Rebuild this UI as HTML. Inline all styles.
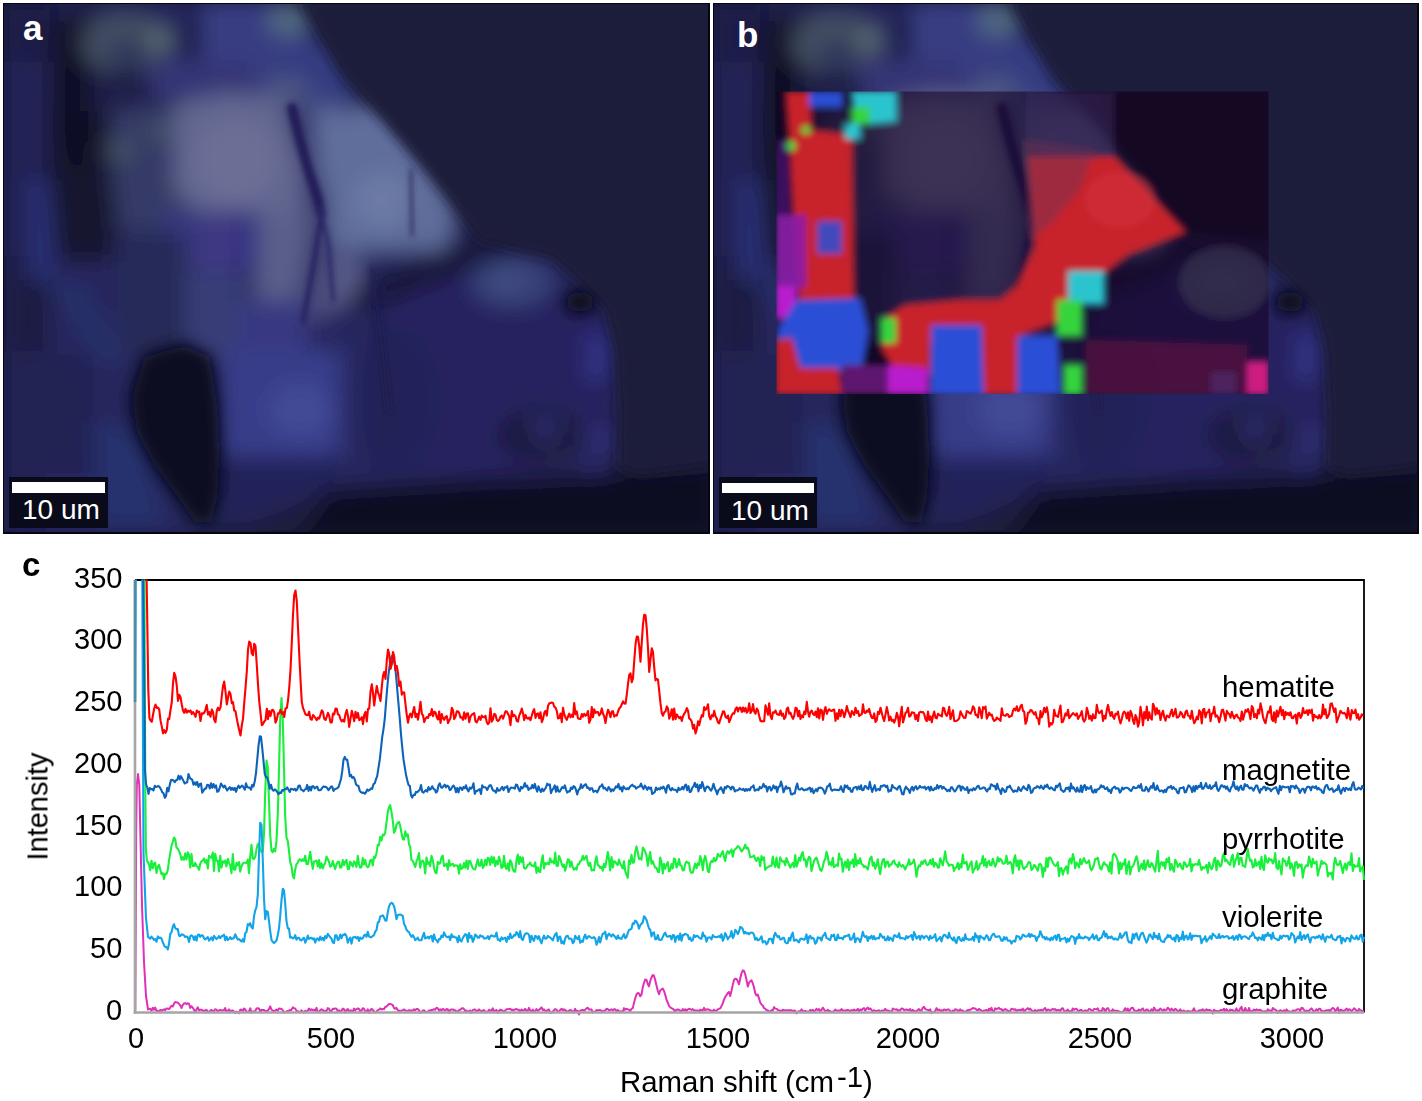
<!DOCTYPE html>
<html><head><meta charset="utf-8"><style>
html,body{margin:0;padding:0;background:#fff;}
body{width:1422px;height:1101px;position:relative;overflow:hidden;font-family:"Liberation Sans",sans-serif;}
.abs{position:absolute;}
.t{position:absolute;font-size:29px;line-height:1;color:#000;white-space:nowrap;will-change:transform;}
.panel{position:absolute;overflow:hidden;background:#161838;}
.lab{position:absolute;color:#fff;font-weight:bold;font-size:35px;line-height:1;}
.sb{position:absolute;background:#0a0b1a;}
.frm{position:absolute;left:0;top:0;right:0;bottom:0;border-style:solid;border-color:#06060f;border-width:1px 2px 2px 1px;}
.sbar{position:absolute;background:#fff;}
.stxt{position:absolute;color:#fff;font-size:28px;line-height:1;}
</style></head><body>
<div class="panel" style="left:3px;top:3px;width:707px;height:531px"><svg class="abs" width="707" height="531" viewBox="3 3 707 531" style="left:0;top:0">
<defs><filter id="bla" filterUnits="userSpaceOnUse" x="-60" y="-60" width="1600" height="700"><feGaussianBlur stdDeviation="11"/></filter>
<filter id="bsa" filterUnits="userSpaceOnUse" x="-60" y="-60" width="1600" height="700"><feGaussianBlur stdDeviation="2.5"/></filter>
<filter id="bea" filterUnits="userSpaceOnUse" x="-60" y="-60" width="1600" height="700"><feGaussianBlur stdDeviation="6"/></filter>
<filter id="bda" filterUnits="userSpaceOnUse" x="-60" y="-60" width="1600" height="700"><feGaussianBlur stdDeviation="6.5"/></filter></defs>
<g filter="url(#bla)"><rect x="0" y="0" width="720" height="540" fill="rgb(26,27,58)" opacity="1"/><polygon points="0,0 296,0 341,73 409,152 440,200 480,240 560,262 605,295 618,350 616,470 560,478 470,478 330,488 240,515 200,540 0,540" fill="rgb(38,40,94)" opacity="1"/><rect x="0" y="60" width="46" height="480" fill="rgb(33,36,86)" opacity="1"/><rect x="0" y="0" width="52" height="62" fill="rgb(28,30,72)" opacity="1"/><rect x="8" y="256" width="42" height="95" fill="rgb(30,28,66)" opacity="1"/><rect x="30" y="180" width="20" height="100" fill="rgb(42,50,120)" opacity="1"/><polygon points="50,12 102,12 110,120 120,200 112,262 60,262 48,180" fill="rgb(18,18,45)" opacity="1"/><ellipse cx="76" cy="100" rx="16" ry="72" fill="rgb(12,12,34)" opacity="1"/><ellipse cx="125" cy="44" rx="44" ry="32" fill="rgb(66,78,98)" opacity="1"/><ellipse cx="128" cy="56" rx="22" ry="16" fill="rgb(50,56,92)" opacity="1"/><ellipse cx="160" cy="40" rx="12" ry="12" fill="rgb(92,110,115)" opacity="1"/><rect x="88" y="71" width="106" height="40" fill="rgb(28,28,70)" opacity="1"/><polygon points="112,108 196,108 196,229 118,229 112,180" fill="rgb(54,58,102)" opacity="1"/><ellipse cx="120" cy="150" rx="14" ry="10" fill="rgb(72,86,104)" opacity="1"/><ellipse cx="160" cy="130" rx="12" ry="10" fill="rgb(70,84,104)" opacity="1"/><ellipse cx="197" cy="58" rx="12" ry="60" fill="rgb(24,22,60)" opacity="1"/><polygon points="200,0 282,0 300,30 339,60 339,119 256,119 240,76 202,84" fill="rgb(56,60,130)" opacity="1"/><ellipse cx="288" cy="20" rx="20" ry="16" fill="rgb(82,108,130)" opacity="1"/><polygon points="268,79 339,79 339,107 268,107" fill="rgb(78,88,130)" opacity="1"/><polygon points="300,30 341,73 358,101 307,101" fill="rgb(54,60,130)" opacity="1"/><rect x="150" y="60" width="106" height="40" fill="rgb(52,52,118)" opacity="1"/><polygon points="174,104 230,92 292,100 302,150 306,212 280,226 250,212 200,212 174,192" fill="rgb(98,102,144)" opacity="1"/><ellipse cx="236" cy="160" rx="42" ry="42" fill="rgb(108,110,150)" opacity="1"/><ellipse cx="215" cy="242" rx="42" ry="30" fill="rgb(60,55,130)" opacity="1"/><polygon points="256,213 315,213 330,250 362,260 362,296 315,320 256,320" fill="rgb(90,95,138)" opacity="1"/><polygon points="312,112 386,107 433,166 455,215 445,250 330,250 318,180" fill="rgb(96,110,156)" opacity="1"/><ellipse cx="386" cy="200" rx="32" ry="26" fill="rgb(108,122,165)" opacity="1"/><polyline points="292,107 305,150 320,202 318,240 310,280 304,320" fill="none" stroke="rgb(34,28,88)" stroke-width="13" opacity="1" stroke-linecap="round" stroke-linejoin="round"/><polyline points="320,202 330,260 328,320" fill="none" stroke="rgb(40,34,96)" stroke-width="6" opacity="1" stroke-linecap="round" stroke-linejoin="round"/><polyline points="412,180 413,240" fill="none" stroke="rgb(55,60,115)" stroke-width="3" opacity="1" stroke-linecap="round" stroke-linejoin="round"/><rect x="240" y="212" width="18" height="60" fill="rgb(50,45,130)" opacity="1"/><rect x="160" y="212" width="40" height="52" fill="rgb(56,56,130)" opacity="1"/><rect x="118" y="231" width="68" height="129" fill="rgb(38,42,88)" opacity="1"/><rect x="186" y="272" width="56" height="88" fill="rgb(55,60,120)" opacity="1"/><rect x="240" y="300" width="67" height="60" fill="rgb(56,56,130)" opacity="1"/><polygon points="50,281 75,281 130,360 100,362" fill="rgb(40,48,108)" opacity="1"/><ellipse cx="490" cy="372" rx="126" ry="104" fill="rgb(37,35,97)" opacity="1"/><ellipse cx="400" cy="400" rx="40" ry="70" fill="rgb(35,33,90)" opacity="1"/><polyline points="500,244 450,262 405,280 365,298" fill="none" stroke="rgb(22,18,55)" stroke-width="28" opacity="1" stroke-linecap="round" stroke-linejoin="round"/><polyline points="372,268 380,330 389,411 380,460" fill="none" stroke="rgb(30,28,80)" stroke-width="9" opacity="1" stroke-linecap="round" stroke-linejoin="round"/><ellipse cx="512" cy="282" rx="42" ry="25" fill="rgb(56,66,122)" opacity="1"/><ellipse cx="508" cy="282" rx="15" ry="9" fill="rgb(68,82,132)" opacity="1"/><ellipse cx="597" cy="346" rx="9" ry="16" fill="rgb(52,52,142)" opacity="1"/><ellipse cx="580" cy="302" rx="17" ry="12" fill="rgb(14,14,34)" opacity="1"/><rect x="17" y="355" width="76" height="118" fill="rgb(32,34,82)" opacity="1"/><polygon points="93,422 140,430 165,524 100,524" fill="rgb(40,48,110)" opacity="1"/><rect x="223" y="350" width="118" height="106" fill="rgb(56,62,138)" opacity="1"/><ellipse cx="300" cy="410" rx="32" ry="28" fill="rgb(66,72,150)" opacity="1"/><polygon points="222,456 341,456 330,490 250,525 222,525" fill="rgb(36,36,90)" opacity="1"/><ellipse cx="541" cy="435" rx="45" ry="28" fill="rgb(26,26,66)" opacity="1"/><ellipse cx="545" cy="428" rx="9" ry="9" fill="rgb(56,56,140)" opacity="1"/><ellipse cx="600" cy="437" rx="9" ry="9" fill="rgb(56,56,140)" opacity="1"/><ellipse cx="595" cy="466" rx="7" ry="7" fill="rgb(50,50,130)" opacity="1"/><ellipse cx="596" cy="368" rx="8" ry="13" fill="rgb(56,60,150)" opacity="1"/><polygon points="330,488 480,480 616,472 720,466 720,540 300,540" fill="rgb(16,16,36)" opacity="1"/><polygon points="185,343 211,355 219,406 221,456 219,498 213,524 194,524 177,498 152,465 135,431 130,397 143,355" fill="rgb(12,12,28)" opacity="1"/><ellipse cx="200" cy="505" rx="12" ry="14" fill="rgb(24,34,40)" opacity="1"/></g>
<g filter="url(#bea)"><polygon points="300,0 720,0 720,465 640,475 618,468 619,420 616,350 606,310 582,285 552,258 500,246 478,240 448,199 409,152 341,73" fill="rgb(26,27,58)" opacity="1"/></g>
<g filter="url(#bsa)"><polyline points="292,108 300,140 309,172 318,200 321,214" fill="none" stroke="rgb(34,28,88)" stroke-width="10" opacity="1" stroke-linecap="round" stroke-linejoin="round"/><polyline points="321,214 316,250 309,290 303,322" fill="none" stroke="rgb(38,32,96)" stroke-width="5" opacity="1" stroke-linecap="round" stroke-linejoin="round"/><polyline points="320,206 329,250 333,300" fill="none" stroke="rgb(44,38,104)" stroke-width="4" opacity="1" stroke-linecap="round" stroke-linejoin="round"/><polyline points="411,170 412,235" fill="none" stroke="rgb(45,45,90)" stroke-width="3" opacity="1" stroke-linecap="round" stroke-linejoin="round"/><polyline points="372,268 380,330 389,411" fill="none" stroke="rgb(30,28,80)" stroke-width="4" opacity="1" stroke-linecap="round" stroke-linejoin="round"/></g>
<g filter="url(#bda)"><ellipse cx="580" cy="302" rx="14" ry="10" fill="rgb(12,12,30)" opacity="1"/><polygon points="185,346 209,357 217,406 219,456 217,498 211,522 195,522 178,497 154,464 137,431 133,398 145,357" fill="rgb(15,16,32)" opacity="1"/></g>
</svg>
<div class="frm"></div>
<div class="lab" style="left:20px;top:7px">a</div>
<div class="sb" style="left:6px;top:474px;width:99px;height:51px"></div>
<div class="sbar" style="left:9px;top:479px;width:93px;height:11px"></div>
<div class="stxt" style="left:19px;top:493px">10 um</div>
</div>
<div class="panel" style="left:713px;top:3px;width:706px;height:531px"><svg class="abs" width="707" height="531" viewBox="3 3 707 531" style="left:0;top:0">
<defs><filter id="blb" filterUnits="userSpaceOnUse" x="-60" y="-60" width="1600" height="700"><feGaussianBlur stdDeviation="11"/></filter>
<filter id="bsb" filterUnits="userSpaceOnUse" x="-60" y="-60" width="1600" height="700"><feGaussianBlur stdDeviation="2.5"/></filter>
<filter id="beb" filterUnits="userSpaceOnUse" x="-60" y="-60" width="1600" height="700"><feGaussianBlur stdDeviation="6"/></filter>
<filter id="bdb" filterUnits="userSpaceOnUse" x="-60" y="-60" width="1600" height="700"><feGaussianBlur stdDeviation="6.5"/></filter></defs>
<g filter="url(#blb)"><rect x="0" y="0" width="720" height="540" fill="rgb(26,27,58)" opacity="1"/><polygon points="0,0 296,0 341,73 409,152 440,200 480,240 560,262 605,295 618,350 616,470 560,478 470,478 330,488 240,515 200,540 0,540" fill="rgb(38,40,94)" opacity="1"/><rect x="0" y="60" width="46" height="480" fill="rgb(33,36,86)" opacity="1"/><rect x="0" y="0" width="52" height="62" fill="rgb(28,30,72)" opacity="1"/><rect x="8" y="256" width="42" height="95" fill="rgb(30,28,66)" opacity="1"/><rect x="30" y="180" width="20" height="100" fill="rgb(42,50,120)" opacity="1"/><polygon points="50,12 102,12 110,120 120,200 112,262 60,262 48,180" fill="rgb(18,18,45)" opacity="1"/><ellipse cx="76" cy="100" rx="16" ry="72" fill="rgb(12,12,34)" opacity="1"/><ellipse cx="125" cy="44" rx="44" ry="32" fill="rgb(66,78,98)" opacity="1"/><ellipse cx="128" cy="56" rx="22" ry="16" fill="rgb(50,56,92)" opacity="1"/><ellipse cx="160" cy="40" rx="12" ry="12" fill="rgb(92,110,115)" opacity="1"/><rect x="88" y="71" width="106" height="40" fill="rgb(28,28,70)" opacity="1"/><polygon points="112,108 196,108 196,229 118,229 112,180" fill="rgb(54,58,102)" opacity="1"/><ellipse cx="120" cy="150" rx="14" ry="10" fill="rgb(72,86,104)" opacity="1"/><ellipse cx="160" cy="130" rx="12" ry="10" fill="rgb(70,84,104)" opacity="1"/><ellipse cx="197" cy="58" rx="12" ry="60" fill="rgb(24,22,60)" opacity="1"/><polygon points="200,0 282,0 300,30 339,60 339,119 256,119 240,76 202,84" fill="rgb(56,60,130)" opacity="1"/><ellipse cx="288" cy="20" rx="20" ry="16" fill="rgb(82,108,130)" opacity="1"/><polygon points="268,79 339,79 339,107 268,107" fill="rgb(78,88,130)" opacity="1"/><polygon points="300,30 341,73 358,101 307,101" fill="rgb(54,60,130)" opacity="1"/><rect x="150" y="60" width="106" height="40" fill="rgb(52,52,118)" opacity="1"/><polygon points="174,104 230,92 292,100 302,150 306,212 280,226 250,212 200,212 174,192" fill="rgb(98,102,144)" opacity="1"/><ellipse cx="236" cy="160" rx="42" ry="42" fill="rgb(108,110,150)" opacity="1"/><ellipse cx="215" cy="242" rx="42" ry="30" fill="rgb(60,55,130)" opacity="1"/><polygon points="256,213 315,213 330,250 362,260 362,296 315,320 256,320" fill="rgb(90,95,138)" opacity="1"/><polygon points="312,112 386,107 433,166 455,215 445,250 330,250 318,180" fill="rgb(96,110,156)" opacity="1"/><ellipse cx="386" cy="200" rx="32" ry="26" fill="rgb(108,122,165)" opacity="1"/><polyline points="292,107 305,150 320,202 318,240 310,280 304,320" fill="none" stroke="rgb(34,28,88)" stroke-width="13" opacity="1" stroke-linecap="round" stroke-linejoin="round"/><polyline points="320,202 330,260 328,320" fill="none" stroke="rgb(40,34,96)" stroke-width="6" opacity="1" stroke-linecap="round" stroke-linejoin="round"/><polyline points="412,180 413,240" fill="none" stroke="rgb(55,60,115)" stroke-width="3" opacity="1" stroke-linecap="round" stroke-linejoin="round"/><rect x="240" y="212" width="18" height="60" fill="rgb(50,45,130)" opacity="1"/><rect x="160" y="212" width="40" height="52" fill="rgb(56,56,130)" opacity="1"/><rect x="118" y="231" width="68" height="129" fill="rgb(38,42,88)" opacity="1"/><rect x="186" y="272" width="56" height="88" fill="rgb(55,60,120)" opacity="1"/><rect x="240" y="300" width="67" height="60" fill="rgb(56,56,130)" opacity="1"/><polygon points="50,281 75,281 130,360 100,362" fill="rgb(40,48,108)" opacity="1"/><ellipse cx="490" cy="372" rx="126" ry="104" fill="rgb(37,35,97)" opacity="1"/><ellipse cx="400" cy="400" rx="40" ry="70" fill="rgb(35,33,90)" opacity="1"/><polyline points="500,244 450,262 405,280 365,298" fill="none" stroke="rgb(22,18,55)" stroke-width="28" opacity="1" stroke-linecap="round" stroke-linejoin="round"/><polyline points="372,268 380,330 389,411 380,460" fill="none" stroke="rgb(30,28,80)" stroke-width="9" opacity="1" stroke-linecap="round" stroke-linejoin="round"/><ellipse cx="512" cy="282" rx="42" ry="25" fill="rgb(56,66,122)" opacity="1"/><ellipse cx="508" cy="282" rx="15" ry="9" fill="rgb(68,82,132)" opacity="1"/><ellipse cx="597" cy="346" rx="9" ry="16" fill="rgb(52,52,142)" opacity="1"/><ellipse cx="580" cy="302" rx="17" ry="12" fill="rgb(14,14,34)" opacity="1"/><rect x="17" y="355" width="76" height="118" fill="rgb(32,34,82)" opacity="1"/><polygon points="93,422 140,430 165,524 100,524" fill="rgb(40,48,110)" opacity="1"/><rect x="223" y="350" width="118" height="106" fill="rgb(56,62,138)" opacity="1"/><ellipse cx="300" cy="410" rx="32" ry="28" fill="rgb(66,72,150)" opacity="1"/><polygon points="222,456 341,456 330,490 250,525 222,525" fill="rgb(36,36,90)" opacity="1"/><ellipse cx="541" cy="435" rx="45" ry="28" fill="rgb(26,26,66)" opacity="1"/><ellipse cx="545" cy="428" rx="9" ry="9" fill="rgb(56,56,140)" opacity="1"/><ellipse cx="600" cy="437" rx="9" ry="9" fill="rgb(56,56,140)" opacity="1"/><ellipse cx="595" cy="466" rx="7" ry="7" fill="rgb(50,50,130)" opacity="1"/><ellipse cx="596" cy="368" rx="8" ry="13" fill="rgb(56,60,150)" opacity="1"/><polygon points="330,488 480,480 616,472 720,466 720,540 300,540" fill="rgb(16,16,36)" opacity="1"/><polygon points="185,343 211,355 219,406 221,456 219,498 213,524 194,524 177,498 152,465 135,431 130,397 143,355" fill="rgb(12,12,28)" opacity="1"/><ellipse cx="200" cy="505" rx="12" ry="14" fill="rgb(24,34,40)" opacity="1"/></g>
<g filter="url(#beb)"><polygon points="300,0 720,0 720,465 640,475 618,468 619,420 616,350 606,310 582,285 552,258 500,246 478,240 448,199 409,152 341,73" fill="rgb(26,27,58)" opacity="1"/></g>
<g filter="url(#bsb)"><polyline points="292,108 300,140 309,172 318,200 321,214" fill="none" stroke="rgb(34,28,88)" stroke-width="10" opacity="1" stroke-linecap="round" stroke-linejoin="round"/><polyline points="321,214 316,250 309,290 303,322" fill="none" stroke="rgb(38,32,96)" stroke-width="5" opacity="1" stroke-linecap="round" stroke-linejoin="round"/><polyline points="320,206 329,250 333,300" fill="none" stroke="rgb(44,38,104)" stroke-width="4" opacity="1" stroke-linecap="round" stroke-linejoin="round"/><polyline points="411,170 412,235" fill="none" stroke="rgb(45,45,90)" stroke-width="3" opacity="1" stroke-linecap="round" stroke-linejoin="round"/><polyline points="372,268 380,330 389,411" fill="none" stroke="rgb(30,28,80)" stroke-width="4" opacity="1" stroke-linecap="round" stroke-linejoin="round"/></g>
<g filter="url(#bdb)"><ellipse cx="580" cy="302" rx="14" ry="10" fill="rgb(12,12,30)" opacity="1"/><polygon points="185,346 209,357 217,406 219,456 217,498 211,522 195,522 178,497 154,464 137,431 133,398 145,357" fill="rgb(15,16,32)" opacity="1"/></g>
</svg><svg class="abs" width="706" height="531" viewBox="713 3 706 531" style="left:0;top:0">
<defs><filter id="ob" filterUnits="userSpaceOnUse" x="600" y="0" width="800" height="500"><feGaussianBlur stdDeviation="3"/></filter>
<clipPath id="oc"><rect x="776.5" y="91.5" width="492" height="302.5"/></clipPath></defs>
<g clip-path="url(#oc)"><g filter="url(#ob)"><rect x="770" y="85" width="510" height="315" fill="rgb(20,0,30)" opacity="0.55"/><polygon points="1100,91 1270,91 1270,240 1190,232 1114,157" fill="rgb(16,8,30)" opacity="0.4"/><ellipse cx="1225" cy="282" rx="45" ry="36" fill="rgb(58,48,78)" opacity="0.6"/><polygon points="1028,92 1114,92 1114,157 1028,157" fill="rgb(60,42,90)" opacity="0.5"/><polygon points="786,92 810,92 812,130 852,135 854,300 838,312 818,316 800,310 795,250 790,150" fill="rgb(200,36,44)" opacity="1"/><polygon points="776,215 806,215 806,288 776,288" fill="rgb(140,30,170)" opacity="0.9"/><polygon points="776,286 796,286 796,318 776,318" fill="rgb(185,30,205)" opacity="1"/><polygon points="776,140 788,140 790,215 776,215" fill="rgb(70,20,110)" opacity="0.8"/><polygon points="817,221 842,221 842,254 817,254" fill="rgb(42,80,214)" opacity="0.85"/><polygon points="796,300 860,298 868,330 862,372 820,372 778,368 778,330" fill="rgb(42,80,214)" opacity="1"/><polygon points="776,340 792,338 800,368 838,368 842,394 776,394" fill="rgb(200,36,44)" opacity="1"/><polygon points="809,92 842,92 842,107 809,107" fill="rgb(42,80,214)" opacity="1"/><polygon points="852,92 896,92 896,121 870,124 856,118" fill="rgb(44,196,206)" opacity="1"/><polygon points="845,124 860,124 860,139 845,139" fill="rgb(44,196,206)" opacity="1"/><polygon points="852,107 870,107 870,124 852,124" fill="rgb(52,212,62)" opacity="1"/><ellipse cx="791" cy="146" rx="5" ry="5" fill="rgb(52,212,62)" opacity="1"/><ellipse cx="806" cy="130" rx="5" ry="4" fill="rgb(52,212,62)" opacity="1"/><polygon points="1028,157 1114,157 1186,232 1129,254 1107,271 1078,297 1057,322 1021,335 1017,394 975,394 970,340 950,330 930,345 930,375 900,378 882,350 882,320 905,305 960,300 1000,300 1017,286 1035,246" fill="rgb(200,36,44)" opacity="1"/><polygon points="1025,140 1095,150 1080,190 1050,225 1030,240" fill="rgb(115,48,82)" opacity="0.5"/><ellipse cx="1120" cy="200" rx="35" ry="28" fill="rgb(210,50,62)" opacity="0.6"/><polygon points="931,325 982,325 984,394 931,394" fill="rgb(42,80,214)" opacity="1"/><polygon points="1017,336 1057,336 1060,394 1017,394" fill="rgb(42,80,214)" opacity="1"/><polygon points="1211,372 1236,372 1236,394 1211,394" fill="rgb(42,80,214)" opacity="0.8"/><polygon points="842,365 888,365 888,394 842,394" fill="rgb(95,22,112)" opacity="1"/><polygon points="888,365 928,368 928,394 888,394" fill="rgb(185,30,205)" opacity="1"/><polygon points="1068,271 1104,271 1104,304 1068,304" fill="rgb(44,196,206)" opacity="1"/><polygon points="1057,300 1082,300 1082,336 1057,336" fill="rgb(52,212,62)" opacity="1"/><polygon points="1064,365 1082,365 1082,394 1064,394" fill="rgb(52,212,62)" opacity="1"/><polygon points="881,318 896,318 896,343 881,343" fill="rgb(52,212,62)" opacity="1"/><polygon points="1086,340 1247,345 1247,394 1086,394" fill="rgb(90,22,64)" opacity="0.75"/><polygon points="1247,362 1268,362 1268,394 1247,394" fill="rgb(205,30,130)" opacity="1"/></g></g>
</svg>
<div class="frm"></div>
<div class="lab" style="left:24px;top:14px">b</div>
<div class="sb" style="left:6px;top:474px;width:98px;height:51px"></div>
<div class="sbar" style="left:9px;top:480px;width:92px;height:10px"></div>
<div class="stxt" style="left:18px;top:494px">10 um</div>
</div>
<svg class="abs" width="1422" height="1101" viewBox="0 0 1422 1101" style="left:0;top:0"><rect x="135.0" y="580.0" width="1229.0" height="432.5" fill="#fff"/><line x1="135.0" y1="580.0" x2="1364.8" y2="580.0" stroke="#000" stroke-width="2"/><line x1="1364.0" y1="580.0" x2="1364.0" y2="1012.5" stroke="#000" stroke-width="1.8"/><defs><clipPath id="pc"><rect x="130" y="579.5" width="1240" height="440"/></clipPath></defs><g clip-path="url(#pc)"><polyline points="144.4,578.0 144.9,700.0 145.4,800.0 145.9,850.0 147.0,861.0 148.0,862.0 149.0,864.5 150.2,870.2 151.5,860.7 152.8,868.2 154.0,863.6 155.2,862.6 156.5,873.0 157.8,866.7 159.0,864.8 160.2,869.3 161.5,874.3 162.8,873.1 164.0,879.0 165.2,873.8 166.5,874.0 167.8,869.9 169.0,860.6 170.2,853.5 171.5,845.9 172.8,841.8 174.0,837.5 175.2,839.2 176.5,847.5 177.8,848.8 179.0,850.9 180.2,854.0 181.5,859.7 182.8,857.2 184.0,859.9 185.2,853.4 186.5,859.4 187.8,852.4 189.0,854.8 190.2,867.5 191.5,854.0 192.8,865.9 194.0,866.0 195.2,862.9 196.5,866.0 197.8,867.0 199.0,869.7 200.2,864.0 201.5,861.1 202.8,860.5 204.0,858.5 205.2,862.7 206.5,859.9 207.8,868.4 209.0,855.8 210.2,857.0 211.5,858.0 212.8,852.6 214.0,871.0 215.2,853.7 216.5,860.6 217.8,860.8 219.0,871.4 220.2,855.8 221.5,867.6 222.8,861.2 224.0,862.7 225.2,860.5 226.5,866.4 227.8,858.9 229.0,862.6 230.2,865.4 231.5,873.2 232.8,854.1 234.0,869.4 235.2,869.7 236.5,862.8 237.8,865.2 239.0,862.0 240.2,871.6 241.5,866.5 242.8,863.5 244.0,862.8 245.2,862.8 246.5,862.9 247.8,859.5 249.0,873.1 250.2,856.5 251.5,844.9 252.8,858.6 254.0,859.0 255.2,857.0 256.5,849.3 257.8,844.0 259.0,843.9 260.2,849.6 261.5,852.0 262.8,851.5 264.0,833.4 265.2,792.8 266.5,760.5 267.8,767.3 269.0,801.4 270.2,834.9 271.5,851.0 272.8,852.2 274.0,848.8 275.2,851.4 276.5,840.9 277.8,814.0 279.0,769.0 280.2,719.8 281.5,698.0 282.8,720.2 284.0,768.2 285.2,816.8 286.5,837.7 287.8,841.2 289.0,850.9 290.2,862.1 291.5,866.0 292.8,876.1 294.0,878.3 295.2,869.4 296.5,864.1 297.8,862.7 299.0,859.9 300.2,859.3 301.5,861.1 302.8,859.3 304.0,860.9 305.2,855.7 306.5,864.0 307.8,864.2 309.0,858.4 310.2,851.7 311.5,861.5 312.8,868.9 314.0,861.4 315.2,861.1 316.5,860.7 317.8,866.5 319.0,860.0 320.2,868.0 321.5,863.3 322.8,868.4 324.0,865.0 325.2,863.1 326.5,856.6 327.8,859.2 329.0,861.8 330.2,866.8 331.5,865.7 332.8,861.0 334.0,865.4 335.2,869.1 336.5,864.3 337.8,861.9 339.0,861.7 340.2,867.5 341.5,867.3 342.8,860.1 344.0,865.1 345.2,861.9 346.5,859.9 347.8,869.2 349.0,869.0 350.2,861.5 351.5,863.9 352.8,866.4 354.0,861.4 355.2,862.9 356.5,867.0 357.8,855.9 359.0,864.0 360.2,867.6 361.5,867.2 362.8,858.1 364.0,864.4 365.2,859.9 366.5,865.9 367.8,867.3 369.0,865.6 370.2,860.4 371.5,859.8 372.8,865.4 374.0,856.9 375.2,857.8 376.5,853.2 377.8,844.7 379.0,845.2 380.2,836.9 381.5,840.4 382.8,834.6 384.0,835.3 385.2,832.6 386.5,822.3 387.8,811.9 389.0,807.3 390.2,805.1 391.5,812.1 392.8,820.7 394.0,832.7 395.2,830.8 396.5,824.7 397.8,822.8 399.0,821.9 400.2,825.8 401.5,833.0 402.8,839.2 404.0,839.6 405.2,831.4 406.5,836.1 407.8,834.3 409.0,844.2 410.2,846.9 411.5,860.1 412.8,860.8 414.0,863.8 415.2,867.0 416.5,861.4 417.8,858.4 419.0,853.0 420.2,867.7 421.5,861.4 422.8,860.6 424.0,863.2 425.2,873.5 426.5,857.5 427.8,863.9 429.0,862.1 430.2,866.2 431.5,855.7 432.8,860.4 434.0,867.4 435.2,872.3 436.5,873.4 437.8,861.7 439.0,863.8 440.2,863.4 441.5,857.2 442.8,855.6 444.0,866.0 445.2,865.6 446.5,863.6 447.8,869.8 449.0,860.3 450.2,865.8 451.5,864.4 452.8,863.8 454.0,866.3 455.2,865.3 456.5,865.6 457.8,865.6 459.0,873.7 460.2,864.4 461.5,869.0 462.8,868.0 464.0,863.1 465.2,867.7 466.5,860.6 467.8,869.0 469.0,861.1 470.2,861.0 471.5,865.0 472.8,868.2 474.0,869.3 475.2,869.4 476.5,864.1 477.8,859.4 479.0,865.7 480.2,865.8 481.5,859.7 482.8,867.9 484.0,865.7 485.2,859.7 486.5,865.3 487.8,857.8 489.0,858.5 490.2,864.9 491.5,856.6 492.8,862.7 494.0,857.2 495.2,866.2 496.5,860.9 497.8,864.3 499.0,856.7 500.2,860.9 501.5,868.0 502.8,867.0 504.0,855.7 505.2,866.8 506.5,868.9 507.8,863.2 509.0,870.7 510.2,860.2 511.5,862.8 512.8,869.2 514.0,871.4 515.2,871.7 516.5,860.2 517.8,854.6 519.0,864.0 520.2,857.0 521.5,862.0 522.8,857.4 524.0,867.8 525.2,868.7 526.5,867.6 527.8,864.8 529.0,864.4 530.2,862.6 531.5,865.6 532.8,865.5 534.0,866.5 535.2,862.4 536.5,872.9 537.8,867.2 539.0,871.4 540.2,872.0 541.5,861.3 542.8,855.3 544.0,868.4 545.2,863.0 546.5,864.2 547.8,862.8 549.0,864.4 550.2,858.3 551.5,862.4 552.8,861.4 554.0,863.4 555.2,852.5 556.5,865.7 557.8,866.0 559.0,856.0 560.2,858.8 561.5,863.1 562.8,866.9 564.0,864.6 565.2,870.8 566.5,865.5 567.8,859.4 569.0,859.8 570.2,866.8 571.5,861.6 572.8,867.6 574.0,869.7 575.2,868.0 576.5,869.7 577.8,864.3 579.0,864.0 580.2,861.1 581.5,860.5 582.8,855.7 584.0,859.6 585.2,857.9 586.5,855.8 587.8,863.1 589.0,866.0 590.2,862.7 591.5,870.4 592.8,869.9 594.0,870.3 595.2,862.3 596.5,856.4 597.8,865.2 599.0,865.7 600.2,867.9 601.5,866.8 602.8,870.7 604.0,863.9 605.2,867.2 606.5,860.3 607.8,852.0 609.0,859.4 610.2,870.4 611.5,857.1 612.8,867.6 614.0,861.4 615.2,861.5 616.5,863.7 617.8,865.0 619.0,859.5 620.2,863.7 621.5,866.1 622.8,868.5 624.0,861.2 625.2,871.0 626.5,874.7 627.8,877.9 629.0,860.3 630.2,864.1 631.5,854.8 632.8,862.8 634.0,862.4 635.2,852.0 636.5,846.4 637.8,852.2 639.0,859.0 640.2,857.9 641.5,859.7 642.8,847.5 644.0,849.2 645.2,851.8 646.5,855.4 647.8,865.9 649.0,858.6 650.2,852.0 651.5,863.8 652.8,861.1 654.0,864.8 655.2,867.7 656.5,867.7 657.8,871.7 659.0,872.1 660.2,857.5 661.5,862.4 662.8,873.4 664.0,863.9 665.2,868.7 666.5,864.7 667.8,862.1 669.0,871.3 670.2,870.5 671.5,864.1 672.8,868.4 674.0,858.5 675.2,859.4 676.5,867.5 677.8,864.9 679.0,859.0 680.2,865.2 681.5,865.8 682.8,870.6 684.0,870.0 685.2,863.9 686.5,861.6 687.8,862.8 689.0,862.7 690.2,870.8 691.5,873.1 692.8,872.4 694.0,867.5 695.2,863.5 696.5,868.3 697.8,863.2 699.0,865.0 700.2,856.1 701.5,860.3 702.8,870.2 704.0,860.2 705.2,855.9 706.5,861.5 707.8,871.3 709.0,872.1 710.2,863.4 711.5,860.9 712.8,861.9 714.0,857.9 715.2,861.1 716.5,859.7 717.8,853.8 719.0,855.7 720.2,856.6 721.5,853.6 722.8,851.2 724.0,857.2 725.2,861.0 726.5,853.5 727.8,851.1 729.0,853.5 730.2,851.5 731.5,849.5 732.8,856.8 734.0,850.7 735.2,849.2 736.5,847.9 737.8,846.0 739.0,846.8 740.2,848.8 741.5,851.5 742.8,849.9 744.0,848.2 745.2,844.7 746.5,848.6 747.8,847.7 749.0,851.4 750.2,857.2 751.5,857.0 752.8,856.6 754.0,855.4 755.2,858.9 756.5,861.0 757.8,857.5 759.0,859.1 760.2,866.2 761.5,856.0 762.8,859.9 764.0,857.3 765.2,869.9 766.5,868.0 767.8,867.2 769.0,866.5 770.2,865.9 771.5,865.8 772.8,856.6 774.0,863.8 775.2,866.8 776.5,857.6 777.8,866.7 779.0,867.8 780.2,857.4 781.5,860.4 782.8,861.8 784.0,861.0 785.2,865.3 786.5,858.0 787.8,861.7 789.0,864.6 790.2,867.7 791.5,865.0 792.8,863.0 794.0,867.2 795.2,855.0 796.5,866.7 797.8,863.0 799.0,857.7 800.2,860.7 801.5,854.4 802.8,852.1 804.0,860.0 805.2,859.4 806.5,866.7 807.8,860.2 809.0,856.9 810.2,857.9 811.5,871.1 812.8,865.6 814.0,861.3 815.2,858.7 816.5,857.6 817.8,861.9 819.0,865.7 820.2,869.9 821.5,870.8 822.8,866.7 824.0,861.3 825.2,859.3 826.5,851.8 827.8,856.6 829.0,864.6 830.2,862.5 831.5,865.5 832.8,857.7 834.0,867.1 835.2,866.1 836.5,864.6 837.8,866.1 839.0,853.5 840.2,859.2 841.5,858.7 842.8,871.8 844.0,864.7 845.2,861.7 846.5,867.7 847.8,859.6 849.0,870.0 850.2,861.8 851.5,863.3 852.8,859.4 854.0,867.0 855.2,854.0 856.5,865.4 857.8,860.3 859.0,863.5 860.2,858.3 861.5,864.0 862.8,864.9 864.0,867.1 865.2,866.1 866.5,867.5 867.8,869.5 869.0,863.2 870.2,858.1 871.5,856.6 872.8,865.8 874.0,862.5 875.2,868.8 876.5,865.2 877.8,859.3 879.0,867.5 880.2,874.1 881.5,865.1 882.8,859.7 884.0,859.0 885.2,867.3 886.5,861.8 887.8,861.6 889.0,866.8 890.2,864.6 891.5,864.7 892.8,861.5 894.0,860.4 895.2,864.1 896.5,864.8 897.8,867.0 899.0,862.2 900.2,865.3 901.5,866.6 902.8,864.9 904.0,867.0 905.2,869.5 906.5,866.1 907.8,864.8 909.0,859.4 910.2,864.7 911.5,863.7 912.8,862.4 914.0,859.7 915.2,865.9 916.5,876.8 917.8,868.7 919.0,865.4 920.2,866.4 921.5,861.6 922.8,864.0 924.0,860.8 925.2,860.2 926.5,864.4 927.8,865.2 929.0,863.7 930.2,860.1 931.5,864.5 932.8,858.8 934.0,866.7 935.2,862.9 936.5,863.8 937.8,867.8 939.0,867.5 940.2,858.4 941.5,861.7 942.8,865.3 944.0,859.0 945.2,851.3 946.5,861.1 947.8,863.2 949.0,865.9 950.2,864.8 951.5,864.8 952.8,865.3 954.0,871.0 955.2,867.7 956.5,867.4 957.8,862.8 959.0,869.2 960.2,864.1 961.5,867.6 962.8,854.5 964.0,863.3 965.2,863.4 966.5,861.6 967.8,869.8 969.0,867.1 970.2,863.9 971.5,861.4 972.8,872.6 974.0,869.4 975.2,868.3 976.5,861.1 977.8,869.8 979.0,867.9 980.2,863.5 981.5,863.4 982.8,856.0 984.0,865.6 985.2,859.0 986.5,867.1 987.8,862.5 989.0,860.7 990.2,865.1 991.5,865.3 992.8,858.8 994.0,862.6 995.2,866.7 996.5,863.3 997.8,857.3 999.0,861.5 1000.2,858.8 1001.5,860.2 1002.8,863.5 1004.0,863.6 1005.2,862.9 1006.5,855.8 1007.8,864.0 1009.0,863.0 1010.2,861.8 1011.5,864.3 1012.8,873.4 1014.0,859.6 1015.2,855.3 1016.5,866.0 1017.8,860.6 1019.0,869.6 1020.2,860.4 1021.5,860.9 1022.8,867.4 1024.0,869.1 1025.2,867.2 1026.5,866.8 1027.8,863.9 1029.0,861.9 1030.2,862.6 1031.5,869.9 1032.8,868.6 1034.0,865.0 1035.2,865.7 1036.5,868.4 1037.8,870.6 1039.0,864.7 1040.2,863.8 1041.5,865.6 1042.8,876.9 1044.0,867.8 1045.2,870.9 1046.5,858.0 1047.8,866.9 1049.0,857.8 1050.2,857.5 1051.5,859.6 1052.8,862.4 1054.0,864.6 1055.2,865.9 1056.5,865.5 1057.8,862.2 1059.0,876.2 1060.2,868.3 1061.5,868.1 1062.8,874.6 1064.0,870.8 1065.2,868.2 1066.5,866.4 1067.8,873.5 1069.0,860.7 1070.2,858.7 1071.5,863.6 1072.8,854.1 1074.0,858.3 1075.2,868.3 1076.5,862.6 1077.8,864.5 1079.0,867.4 1080.2,859.1 1081.5,864.3 1082.8,861.0 1084.0,858.1 1085.2,861.5 1086.5,863.2 1087.8,861.9 1089.0,860.4 1090.2,867.9 1091.5,870.3 1092.8,867.9 1094.0,864.3 1095.2,859.0 1096.5,859.0 1097.8,857.7 1099.0,863.7 1100.2,868.4 1101.5,869.3 1102.8,864.9 1104.0,862.3 1105.2,864.5 1106.5,864.7 1107.8,867.0 1109.0,871.7 1110.2,862.2 1111.5,873.7 1112.8,855.8 1114.0,853.8 1115.2,854.7 1116.5,857.2 1117.8,861.5 1119.0,873.5 1120.2,862.5 1121.5,869.0 1122.8,863.3 1124.0,864.6 1125.2,859.2 1126.5,874.0 1127.8,865.8 1129.0,861.4 1130.2,874.4 1131.5,867.0 1132.8,866.6 1134.0,863.8 1135.2,860.0 1136.5,856.3 1137.8,861.6 1139.0,871.3 1140.2,867.5 1141.5,863.9 1142.8,869.1 1144.0,860.5 1145.2,869.9 1146.5,865.1 1147.8,860.2 1149.0,866.5 1150.2,867.0 1151.5,862.9 1152.8,864.8 1154.0,868.9 1155.2,871.7 1156.5,861.5 1157.8,850.8 1159.0,871.2 1160.2,864.2 1161.5,862.0 1162.8,865.7 1164.0,862.3 1165.2,868.7 1166.5,858.9 1167.8,862.0 1169.0,857.5 1170.2,870.1 1171.5,864.0 1172.8,869.3 1174.0,871.7 1175.2,859.8 1176.5,862.1 1177.8,867.1 1179.0,864.9 1180.2,863.5 1181.5,868.0 1182.8,869.2 1184.0,862.2 1185.2,863.0 1186.5,866.9 1187.8,865.6 1189.0,865.0 1190.2,858.8 1191.5,871.4 1192.8,864.4 1194.0,865.4 1195.2,864.1 1196.5,864.3 1197.8,864.8 1199.0,860.1 1200.2,865.0 1201.5,870.0 1202.8,867.1 1204.0,868.1 1205.2,867.2 1206.5,864.8 1207.8,872.9 1209.0,862.5 1210.2,865.6 1211.5,869.3 1212.8,866.5 1214.0,859.4 1215.2,857.8 1216.5,870.3 1217.8,860.6 1219.0,863.4 1220.2,866.5 1221.5,864.9 1222.8,855.6 1224.0,853.2 1225.2,861.3 1226.5,859.7 1227.8,861.9 1229.0,864.0 1230.2,864.8 1231.5,857.7 1232.8,854.6 1234.0,866.7 1235.2,861.5 1236.5,857.8 1237.8,853.1 1239.0,864.4 1240.2,858.0 1241.5,857.8 1242.8,865.8 1244.0,865.8 1245.2,867.1 1246.5,858.5 1247.8,849.1 1249.0,856.2 1250.2,861.0 1251.5,860.2 1252.8,867.5 1254.0,866.5 1255.2,859.4 1256.5,865.8 1257.8,863.6 1259.0,861.6 1260.2,868.9 1261.5,856.9 1262.8,867.6 1264.0,870.0 1265.2,855.3 1266.5,861.3 1267.8,862.7 1269.0,858.3 1270.2,860.1 1271.5,859.3 1272.8,863.4 1274.0,861.2 1275.2,853.1 1276.5,867.6 1277.8,869.1 1279.0,861.0 1280.2,867.6 1281.5,874.5 1282.8,858.6 1284.0,860.9 1285.2,860.9 1286.5,866.1 1287.8,862.9 1289.0,857.0 1290.2,868.7 1291.5,863.4 1292.8,867.4 1294.0,875.8 1295.2,862.7 1296.5,861.8 1297.8,868.0 1299.0,864.3 1300.2,866.6 1301.5,864.5 1302.8,877.7 1304.0,869.8 1305.2,866.8 1306.5,865.2 1307.8,866.1 1309.0,856.5 1310.2,861.2 1311.5,867.1 1312.8,858.8 1314.0,863.2 1315.2,863.4 1316.5,861.4 1317.8,875.6 1319.0,869.8 1320.2,866.8 1321.5,860.7 1322.8,863.8 1324.0,862.5 1325.2,863.3 1326.5,864.9 1327.8,876.4 1329.0,873.0 1330.2,874.1 1331.5,872.7 1332.8,879.5 1334.0,863.9 1335.2,857.7 1336.5,863.8 1337.8,865.2 1339.0,864.4 1340.2,861.1 1341.5,866.8 1342.8,873.0 1344.0,866.9 1345.2,863.5 1346.5,869.7 1347.8,863.7 1349.0,862.2 1350.2,865.2 1351.5,853.2 1352.8,871.0 1354.0,864.9 1355.2,866.7 1356.5,866.1 1357.8,866.4 1359.0,858.0 1360.2,871.4 1361.5,868.3 1362.8,866.3 1364.0,879.8" fill="none" stroke="#19f03c" stroke-width="2.1" stroke-linejoin="round"/><polyline points="135.2,702.0 135.5,640.0 135.8,578.0 142.3,578.0 142.8,700.0 143.5,853.0 146.0,918.0 148.0,937.0 149.0,937.6 150.2,938.7 151.5,936.6 152.8,938.2 154.0,939.9 155.2,939.0 156.5,941.7 157.8,936.4 159.0,938.2 160.2,937.5 161.5,938.6 162.8,942.0 164.0,945.2 165.2,947.0 166.5,947.0 167.8,949.4 169.0,944.0 170.2,934.2 171.5,932.3 172.8,926.8 174.0,924.2 175.2,927.9 176.5,929.3 177.8,929.0 179.0,935.5 180.2,936.2 181.5,934.4 182.8,934.6 184.0,935.4 185.2,937.0 186.5,936.4 187.8,937.4 189.0,942.0 190.2,936.4 191.5,935.3 192.8,936.5 194.0,940.0 195.2,936.3 196.5,940.7 197.8,935.0 199.0,934.5 200.2,936.8 201.5,935.3 202.8,935.5 204.0,938.2 205.2,939.4 206.5,938.2 207.8,937.0 209.0,940.7 210.2,939.1 211.5,937.3 212.8,940.4 214.0,935.9 215.2,937.6 216.5,939.1 217.8,937.8 219.0,936.2 220.2,938.1 221.5,936.3 222.8,935.8 224.0,934.7 225.2,940.1 226.5,936.7 227.8,940.1 229.0,939.0 230.2,937.2 231.5,939.1 232.8,938.5 234.0,938.0 235.2,934.3 236.5,937.0 237.8,939.6 239.0,939.1 240.2,940.2 241.5,941.6 242.8,939.2 244.0,941.9 245.2,933.2 246.5,932.0 247.8,924.1 249.0,925.3 250.2,923.2 251.5,927.3 252.8,928.5 254.0,916.4 255.2,910.5 256.5,907.1 257.8,894.7 259.0,854.8 260.2,822.7 261.5,824.8 262.8,860.2 264.0,898.4 265.2,919.3 266.5,911.0 267.8,911.9 269.0,920.8 270.2,931.1 271.5,940.0 272.8,942.0 274.0,943.1 275.2,941.7 276.5,940.6 277.8,934.9 279.0,928.3 280.2,916.0 281.5,900.1 282.8,888.7 284.0,890.3 285.2,903.3 286.5,921.1 287.8,928.4 289.0,928.5 290.2,937.6 291.5,937.1 292.8,938.5 294.0,937.9 295.2,935.1 296.5,939.8 297.8,937.7 299.0,937.7 300.2,940.0 301.5,940.5 302.8,938.7 304.0,937.8 305.2,942.7 306.5,939.9 307.8,935.5 309.0,938.9 310.2,938.2 311.5,937.7 312.8,939.2 314.0,938.4 315.2,942.6 316.5,939.0 317.8,938.4 319.0,940.5 320.2,936.7 321.5,939.8 322.8,937.8 324.0,940.4 325.2,936.0 326.5,938.2 327.8,933.8 329.0,935.7 330.2,937.2 331.5,938.6 332.8,942.5 334.0,943.0 335.2,935.3 336.5,935.2 337.8,940.1 339.0,939.1 340.2,934.5 341.5,938.1 342.8,934.9 344.0,934.9 345.2,933.9 346.5,936.2 347.8,942.7 349.0,939.5 350.2,937.6 351.5,943.6 352.8,937.6 354.0,937.2 355.2,936.8 356.5,938.4 357.8,936.9 359.0,940.9 360.2,937.5 361.5,938.9 362.8,938.3 364.0,935.6 365.2,934.7 366.5,936.8 367.8,931.8 369.0,936.3 370.2,937.2 371.5,937.1 372.8,935.9 374.0,935.3 375.2,931.6 376.5,930.0 377.8,922.5 379.0,921.8 380.2,916.5 381.5,916.1 382.8,915.4 384.0,917.4 385.2,920.4 386.5,920.7 387.8,912.2 389.0,906.4 390.2,904.0 391.5,902.8 392.8,903.7 394.0,906.1 395.2,911.3 396.5,919.2 397.8,915.2 399.0,914.6 400.2,914.5 401.5,915.2 402.8,916.0 404.0,923.8 405.2,926.1 406.5,929.6 407.8,931.4 409.0,932.1 410.2,934.7 411.5,936.8 412.8,935.1 414.0,937.2 415.2,940.2 416.5,939.1 417.8,937.6 419.0,940.1 420.2,940.2 421.5,940.2 422.8,936.1 424.0,932.8 425.2,938.5 426.5,937.9 427.8,936.7 429.0,938.5 430.2,936.6 431.5,935.8 432.8,941.5 434.0,934.5 435.2,938.9 436.5,940.2 437.8,942.3 439.0,939.1 440.2,939.1 441.5,935.6 442.8,937.2 444.0,932.4 445.2,935.1 446.5,937.0 447.8,937.1 449.0,936.3 450.2,940.1 451.5,934.2 452.8,937.2 454.0,936.5 455.2,937.4 456.5,937.6 457.8,942.2 459.0,935.9 460.2,940.4 461.5,941.5 462.8,938.0 464.0,936.1 465.2,934.2 466.5,934.8 467.8,941.9 469.0,933.1 470.2,937.7 471.5,935.9 472.8,941.8 474.0,939.1 475.2,934.6 476.5,935.7 477.8,937.6 479.0,937.8 480.2,935.3 481.5,936.4 482.8,936.2 484.0,938.4 485.2,938.4 486.5,938.2 487.8,936.2 489.0,939.2 490.2,936.5 491.5,935.3 492.8,936.0 494.0,936.4 495.2,936.5 496.5,932.6 497.8,939.8 499.0,939.5 500.2,941.1 501.5,937.3 502.8,939.3 504.0,938.3 505.2,937.7 506.5,941.9 507.8,936.9 509.0,938.8 510.2,933.6 511.5,938.1 512.8,937.2 514.0,935.0 515.2,935.6 516.5,932.0 517.8,933.8 519.0,937.2 520.2,931.1 521.5,938.8 522.8,940.1 524.0,936.2 525.2,933.7 526.5,933.3 527.8,933.6 529.0,934.9 530.2,942.3 531.5,935.7 532.8,939.0 534.0,940.8 535.2,935.9 536.5,936.5 537.8,938.9 539.0,936.2 540.2,940.3 541.5,943.3 542.8,938.5 544.0,935.7 545.2,938.6 546.5,938.5 547.8,935.9 549.0,936.8 550.2,937.6 551.5,938.7 552.8,940.5 554.0,936.9 555.2,934.2 556.5,932.9 557.8,941.1 559.0,937.2 560.2,936.5 561.5,943.3 562.8,941.4 564.0,943.7 565.2,938.3 566.5,936.0 567.8,935.9 569.0,938.8 570.2,938.8 571.5,938.7 572.8,943.2 574.0,941.9 575.2,935.8 576.5,938.2 577.8,939.1 579.0,936.0 580.2,942.8 581.5,940.8 582.8,941.8 584.0,937.1 585.2,934.6 586.5,938.8 587.8,937.3 589.0,936.0 590.2,937.0 591.5,937.9 592.8,937.9 594.0,937.1 595.2,938.5 596.5,944.8 597.8,941.8 599.0,937.1 600.2,942.4 601.5,937.3 602.8,933.7 604.0,933.4 605.2,931.7 606.5,939.1 607.8,935.1 609.0,933.6 610.2,935.3 611.5,936.6 612.8,934.3 614.0,935.4 615.2,937.1 616.5,939.0 617.8,935.5 619.0,938.4 620.2,938.3 621.5,938.9 622.8,936.3 624.0,934.1 625.2,938.2 626.5,937.2 627.8,932.9 629.0,929.9 630.2,929.5 631.5,928.7 632.8,923.3 634.0,923.9 635.2,920.7 636.5,921.5 637.8,924.2 639.0,928.6 640.2,925.4 641.5,923.7 642.8,922.2 644.0,916.3 645.2,917.5 646.5,919.9 647.8,924.5 649.0,928.5 650.2,929.7 651.5,936.4 652.8,932.9 654.0,932.4 655.2,939.2 656.5,939.3 657.8,935.0 659.0,939.6 660.2,940.0 661.5,939.8 662.8,936.9 664.0,934.2 665.2,932.7 666.5,936.0 667.8,936.8 669.0,936.1 670.2,935.8 671.5,939.4 672.8,935.1 674.0,935.2 675.2,941.9 676.5,936.8 677.8,935.8 679.0,939.7 680.2,933.5 681.5,940.7 682.8,935.0 684.0,934.9 685.2,933.8 686.5,934.4 687.8,935.1 689.0,939.3 690.2,937.7 691.5,940.9 692.8,940.1 694.0,935.0 695.2,937.0 696.5,935.9 697.8,936.1 699.0,937.5 700.2,938.4 701.5,938.7 702.8,932.5 704.0,936.1 705.2,936.1 706.5,941.7 707.8,937.7 709.0,937.4 710.2,937.5 711.5,939.4 712.8,935.1 714.0,936.7 715.2,937.0 716.5,937.3 717.8,936.8 719.0,936.0 720.2,937.4 721.5,934.2 722.8,940.8 724.0,938.1 725.2,933.1 726.5,935.8 727.8,939.3 729.0,937.1 730.2,936.6 731.5,931.1 732.8,938.1 734.0,935.7 735.2,929.9 736.5,931.1 737.8,934.1 739.0,931.6 740.2,926.9 741.5,927.5 742.8,929.2 744.0,933.5 745.2,931.9 746.5,933.5 747.8,932.8 749.0,934.3 750.2,933.0 751.5,932.6 752.8,932.7 754.0,934.8 755.2,939.8 756.5,937.8 757.8,940.4 759.0,939.9 760.2,938.3 761.5,936.4 762.8,942.5 764.0,941.3 765.2,941.3 766.5,944.4 767.8,942.6 769.0,939.1 770.2,938.7 771.5,939.1 772.8,943.3 774.0,936.2 775.2,932.8 776.5,935.4 777.8,937.1 779.0,936.0 780.2,939.5 781.5,939.4 782.8,937.8 784.0,937.7 785.2,942.2 786.5,943.3 787.8,942.9 789.0,937.7 790.2,940.5 791.5,935.3 792.8,932.6 794.0,940.7 795.2,940.3 796.5,939.7 797.8,941.4 799.0,942.4 800.2,939.2 801.5,938.5 802.8,939.2 804.0,939.9 805.2,938.5 806.5,934.4 807.8,943.0 809.0,936.8 810.2,935.9 811.5,938.7 812.8,937.6 814.0,938.9 815.2,943.7 816.5,942.3 817.8,937.3 819.0,938.3 820.2,937.5 821.5,940.6 822.8,936.0 824.0,934.9 825.2,932.9 826.5,937.9 827.8,938.6 829.0,939.5 830.2,940.0 831.5,935.1 832.8,936.2 834.0,934.6 835.2,940.0 836.5,940.2 837.8,934.5 839.0,938.3 840.2,938.0 841.5,937.9 842.8,939.3 844.0,936.4 845.2,936.6 846.5,935.7 847.8,935.6 849.0,934.6 850.2,939.8 851.5,939.4 852.8,937.3 854.0,933.5 855.2,942.3 856.5,938.6 857.8,938.3 859.0,939.3 860.2,942.1 861.5,937.7 862.8,931.8 864.0,935.7 865.2,937.1 866.5,936.1 867.8,940.9 869.0,937.1 870.2,938.3 871.5,935.7 872.8,939.1 874.0,936.2 875.2,939.3 876.5,938.3 877.8,938.1 879.0,938.5 880.2,933.8 881.5,935.7 882.8,937.7 884.0,936.7 885.2,940.3 886.5,940.3 887.8,936.3 889.0,940.2 890.2,937.6 891.5,938.9 892.8,940.8 894.0,935.5 895.2,935.2 896.5,937.0 897.8,936.9 899.0,933.3 900.2,938.4 901.5,938.1 902.8,938.2 904.0,938.5 905.2,939.5 906.5,936.0 907.8,938.0 909.0,936.6 910.2,936.2 911.5,935.2 912.8,940.0 914.0,932.1 915.2,934.7 916.5,938.7 917.8,937.0 919.0,935.9 920.2,939.8 921.5,935.7 922.8,936.5 924.0,938.3 925.2,936.4 926.5,936.1 927.8,937.4 929.0,939.9 930.2,935.8 931.5,938.5 932.8,937.6 934.0,936.7 935.2,934.2 936.5,941.1 937.8,939.7 939.0,938.6 940.2,937.0 941.5,941.4 942.8,936.7 944.0,934.9 945.2,935.1 946.5,937.0 947.8,938.2 949.0,932.8 950.2,937.3 951.5,938.2 952.8,940.3 954.0,937.3 955.2,941.1 956.5,943.1 957.8,937.4 959.0,936.9 960.2,939.8 961.5,941.0 962.8,938.2 964.0,940.5 965.2,934.4 966.5,939.2 967.8,939.0 969.0,940.0 970.2,939.2 971.5,939.5 972.8,936.9 974.0,940.8 975.2,933.2 976.5,937.3 977.8,936.0 979.0,942.0 980.2,935.7 981.5,937.5 982.8,937.5 984.0,939.5 985.2,937.9 986.5,935.1 987.8,936.7 989.0,940.3 990.2,940.0 991.5,936.3 992.8,934.3 994.0,933.8 995.2,936.6 996.5,937.0 997.8,936.6 999.0,936.1 1000.2,937.7 1001.5,940.8 1002.8,940.7 1004.0,937.1 1005.2,939.4 1006.5,937.3 1007.8,940.7 1009.0,940.7 1010.2,940.5 1011.5,943.6 1012.8,941.3 1014.0,940.6 1015.2,941.6 1016.5,935.9 1017.8,936.5 1019.0,936.5 1020.2,939.5 1021.5,938.1 1022.8,934.6 1024.0,935.1 1025.2,936.6 1026.5,936.3 1027.8,936.2 1029.0,933.7 1030.2,937.1 1031.5,934.3 1032.8,936.0 1034.0,935.8 1035.2,936.5 1036.5,940.9 1037.8,937.2 1039.0,936.5 1040.2,931.3 1041.5,934.2 1042.8,937.5 1044.0,936.8 1045.2,939.4 1046.5,937.2 1047.8,939.5 1049.0,938.6 1050.2,940.4 1051.5,937.5 1052.8,939.7 1054.0,936.9 1055.2,935.6 1056.5,940.0 1057.8,934.7 1059.0,934.8 1060.2,941.0 1061.5,938.7 1062.8,938.7 1064.0,938.4 1065.2,937.7 1066.5,942.4 1067.8,938.7 1069.0,941.3 1070.2,938.3 1071.5,936.0 1072.8,936.6 1074.0,937.5 1075.2,943.9 1076.5,937.4 1077.8,938.6 1079.0,934.0 1080.2,938.2 1081.5,937.4 1082.8,938.5 1084.0,938.0 1085.2,936.5 1086.5,937.5 1087.8,937.6 1089.0,940.1 1090.2,937.9 1091.5,937.3 1092.8,934.4 1094.0,939.1 1095.2,937.5 1096.5,935.3 1097.8,940.1 1099.0,940.3 1100.2,938.1 1101.5,937.8 1102.8,934.4 1104.0,931.2 1105.2,936.6 1106.5,933.7 1107.8,938.4 1109.0,936.9 1110.2,938.0 1111.5,936.3 1112.8,938.4 1114.0,939.6 1115.2,938.3 1116.5,939.5 1117.8,939.8 1119.0,937.6 1120.2,933.4 1121.5,938.3 1122.8,936.2 1124.0,934.8 1125.2,932.5 1126.5,932.2 1127.8,939.7 1129.0,942.3 1130.2,941.8 1131.5,943.3 1132.8,934.0 1134.0,938.7 1135.2,934.4 1136.5,933.3 1137.8,938.2 1139.0,939.9 1140.2,935.8 1141.5,933.2 1142.8,932.8 1144.0,936.1 1145.2,939.4 1146.5,942.7 1147.8,939.7 1149.0,935.4 1150.2,934.4 1151.5,937.0 1152.8,939.0 1154.0,932.9 1155.2,937.2 1156.5,935.9 1157.8,939.2 1159.0,933.8 1160.2,939.1 1161.5,941.3 1162.8,941.7 1164.0,942.1 1165.2,938.7 1166.5,938.0 1167.8,934.9 1169.0,936.9 1170.2,935.4 1171.5,938.5 1172.8,939.5 1174.0,937.5 1175.2,941.4 1176.5,935.0 1177.8,935.6 1179.0,941.3 1180.2,937.6 1181.5,939.2 1182.8,931.6 1184.0,939.9 1185.2,936.3 1186.5,935.6 1187.8,939.5 1189.0,938.0 1190.2,933.3 1191.5,939.9 1192.8,935.6 1194.0,936.2 1195.2,935.6 1196.5,936.0 1197.8,936.1 1199.0,936.3 1200.2,936.1 1201.5,943.2 1202.8,939.3 1204.0,939.3 1205.2,936.3 1206.5,941.6 1207.8,939.6 1209.0,938.1 1210.2,936.2 1211.5,939.1 1212.8,933.6 1214.0,935.0 1215.2,936.1 1216.5,938.0 1217.8,937.9 1219.0,934.0 1220.2,938.2 1221.5,936.5 1222.8,936.0 1224.0,937.5 1225.2,936.7 1226.5,936.2 1227.8,936.3 1229.0,938.8 1230.2,937.8 1231.5,938.1 1232.8,936.0 1234.0,940.0 1235.2,938.2 1236.5,935.8 1237.8,939.7 1239.0,934.6 1240.2,935.1 1241.5,938.9 1242.8,936.7 1244.0,936.5 1245.2,936.4 1246.5,937.3 1247.8,938.5 1249.0,939.1 1250.2,936.1 1251.5,936.0 1252.8,932.4 1254.0,935.2 1255.2,938.1 1256.5,937.7 1257.8,940.4 1259.0,937.4 1260.2,938.1 1261.5,939.7 1262.8,935.1 1264.0,940.3 1265.2,934.7 1266.5,936.2 1267.8,932.8 1269.0,935.8 1270.2,934.7 1271.5,939.2 1272.8,932.9 1274.0,937.6 1275.2,938.4 1276.5,939.0 1277.8,940.1 1279.0,940.0 1280.2,935.8 1281.5,938.6 1282.8,935.9 1284.0,935.5 1285.2,936.4 1286.5,936.0 1287.8,935.7 1289.0,939.6 1290.2,938.0 1291.5,933.0 1292.8,934.6 1294.0,935.7 1295.2,942.5 1296.5,939.0 1297.8,936.5 1299.0,938.3 1300.2,932.1 1301.5,940.0 1302.8,937.1 1304.0,935.1 1305.2,939.0 1306.5,935.8 1307.8,934.4 1309.0,938.8 1310.2,942.4 1311.5,937.6 1312.8,937.3 1314.0,937.1 1315.2,938.4 1316.5,936.6 1317.8,937.6 1319.0,935.6 1320.2,936.8 1321.5,939.3 1322.8,934.2 1324.0,938.5 1325.2,941.8 1326.5,936.7 1327.8,936.4 1329.0,937.5 1330.2,937.4 1331.5,934.8 1332.8,938.9 1334.0,939.3 1335.2,940.3 1336.5,939.7 1337.8,936.5 1339.0,936.9 1340.2,935.8 1341.5,943.4 1342.8,937.7 1344.0,939.6 1345.2,941.5 1346.5,938.0 1347.8,938.1 1349.0,938.6 1350.2,941.5 1351.5,935.4 1352.8,937.7 1354.0,938.6 1355.2,938.8 1356.5,935.8 1357.8,939.4 1359.0,939.0 1360.2,935.4 1361.5,934.5 1362.8,941.7 1364.0,936.8" fill="none" stroke="#12a4e8" stroke-width="2.1" stroke-linejoin="round"/><polyline points="143.2,578.0 144.0,650.0 144.6,715.0 144.9,770.0 146.0,784.0 147.5,788.0 148.5,793.9 149.8,788.1 151.0,789.3 152.2,789.0 153.5,790.5 154.8,785.7 156.0,787.0 157.2,786.6 158.5,786.1 159.8,787.2 161.0,789.4 162.2,792.2 163.5,793.3 164.8,797.8 166.0,796.0 167.2,787.9 168.5,791.3 169.8,784.8 171.0,780.1 172.2,779.8 173.5,780.5 174.8,782.2 176.0,780.3 177.2,779.9 178.5,775.7 179.8,779.3 181.0,776.2 182.2,778.4 183.5,780.9 184.8,783.5 186.0,782.7 187.2,782.2 188.5,774.0 189.8,777.9 191.0,779.0 192.2,779.7 193.5,784.7 194.8,782.4 196.0,784.8 197.2,781.9 198.5,786.9 199.8,783.9 201.0,783.6 202.2,792.6 203.5,790.6 204.8,788.6 206.0,788.6 207.2,784.9 208.5,785.0 209.8,788.5 211.0,783.3 212.2,787.8 213.5,784.0 214.8,787.6 216.0,785.4 217.2,791.7 218.5,791.2 219.8,787.5 221.0,783.6 222.2,785.4 223.5,787.4 224.8,785.7 226.0,788.3 227.2,790.5 228.5,788.5 229.8,787.2 231.0,789.8 232.2,787.8 233.5,790.0 234.8,787.8 236.0,791.8 237.2,788.2 238.5,785.7 239.8,787.9 241.0,786.6 242.2,785.6 243.5,787.3 244.8,789.7 246.0,783.4 247.2,787.1 248.5,787.6 249.8,787.6 251.0,789.7 252.2,784.8 253.5,786.5 254.8,781.0 256.0,773.0 257.2,760.0 258.5,745.9 259.8,736.3 261.0,736.8 262.2,747.6 263.5,761.2 264.8,774.1 266.0,777.5 267.2,777.2 268.5,782.0 269.8,788.8 271.0,784.7 272.2,789.2 273.5,790.7 274.8,789.4 276.0,790.3 277.2,791.9 278.5,794.1 279.8,792.5 281.0,793.0 282.2,790.0 283.5,790.6 284.8,789.1 286.0,789.2 287.2,787.4 288.5,789.7 289.8,792.0 291.0,788.7 292.2,789.0 293.5,789.9 294.8,788.7 296.0,790.6 297.2,789.4 298.5,785.8 299.8,785.5 301.0,789.5 302.2,790.1 303.5,791.3 304.8,789.5 306.0,789.1 307.2,784.9 308.5,790.9 309.8,786.8 311.0,790.5 312.2,786.2 313.5,786.4 314.8,788.4 316.0,787.4 317.2,786.6 318.5,790.1 319.8,790.3 321.0,789.7 322.2,787.9 323.5,786.4 324.8,786.9 326.0,786.9 327.2,788.1 328.5,790.1 329.8,788.4 331.0,786.6 332.2,786.6 333.5,791.0 334.8,789.2 336.0,788.8 337.2,788.1 338.5,787.1 339.8,783.0 341.0,779.0 342.2,771.4 343.5,759.7 344.8,756.9 346.0,759.6 347.2,759.7 348.5,767.2 349.8,776.3 351.0,774.8 352.2,777.8 353.5,777.0 354.8,779.5 356.0,784.2 357.2,785.5 358.5,786.0 359.8,790.9 361.0,792.2 362.2,792.9 363.5,792.5 364.8,793.7 366.0,792.3 367.2,789.5 368.5,790.7 369.8,789.9 371.0,788.4 372.2,788.8 373.5,784.1 374.8,783.2 376.0,779.1 377.2,776.2 378.5,767.6 379.8,759.4 381.0,748.5 382.2,737.1 383.5,729.1 384.8,718.3 386.0,702.8 387.2,688.0 388.5,674.4 389.8,664.5 391.0,657.8 392.2,655.7 393.5,658.2 394.8,664.7 396.0,674.8 397.2,688.9 398.5,703.8 399.8,718.9 401.0,734.4 402.2,746.8 403.5,759.4 404.8,767.3 406.0,774.7 407.2,780.0 408.5,785.0 409.8,785.9 411.0,795.0 412.2,797.6 413.5,794.9 414.8,795.0 416.0,791.9 417.2,792.3 418.5,790.9 419.8,789.8 421.0,785.0 422.2,791.7 423.5,792.6 424.8,791.1 426.0,790.1 427.2,791.6 428.5,787.1 429.8,789.8 431.0,788.8 432.2,786.3 433.5,788.9 434.8,789.4 436.0,792.6 437.2,791.5 438.5,785.4 439.8,783.4 441.0,787.3 442.2,787.8 443.5,786.2 444.8,784.7 446.0,787.3 447.2,785.6 448.5,786.3 449.8,790.1 451.0,789.4 452.2,786.9 453.5,785.6 454.8,787.5 456.0,792.3 457.2,788.1 458.5,792.4 459.8,787.5 461.0,787.8 462.2,790.0 463.5,787.0 464.8,788.3 466.0,785.3 467.2,789.4 468.5,791.3 469.8,787.6 471.0,788.7 472.2,787.6 473.5,783.3 474.8,793.8 476.0,791.0 477.2,790.9 478.5,789.9 479.8,789.2 481.0,794.1 482.2,785.4 483.5,787.2 484.8,787.3 486.0,787.8 487.2,790.0 488.5,787.1 489.8,785.2 491.0,785.2 492.2,788.9 493.5,790.8 494.8,790.8 496.0,792.6 497.2,788.1 498.5,790.7 499.8,790.5 501.0,788.5 502.2,786.8 503.5,790.2 504.8,787.3 506.0,787.6 507.2,786.1 508.5,792.0 509.8,789.1 511.0,787.5 512.2,787.7 513.5,787.8 514.8,788.6 516.0,784.6 517.2,785.0 518.5,789.0 519.8,791.1 521.0,786.7 522.2,788.4 523.5,787.1 524.8,783.0 526.0,786.7 527.2,785.6 528.5,789.9 529.8,788.3 531.0,788.4 532.2,785.1 533.5,788.1 534.8,783.9 536.0,788.1 537.2,791.6 538.5,786.3 539.8,790.0 541.0,792.0 542.2,788.7 543.5,791.1 544.8,789.2 546.0,787.5 547.2,783.7 548.5,785.0 549.8,784.4 551.0,793.2 552.2,790.0 553.5,788.4 554.8,785.4 556.0,791.8 557.2,786.5 558.5,791.5 559.8,791.6 561.0,789.3 562.2,787.1 563.5,788.1 564.8,785.4 566.0,789.4 567.2,792.6 568.5,791.4 569.8,791.5 571.0,787.5 572.2,789.0 573.5,786.2 574.8,787.0 576.0,789.9 577.2,794.5 578.5,789.9 579.8,788.9 581.0,784.2 582.2,788.0 583.5,786.3 584.8,784.8 586.0,784.3 587.2,788.0 588.5,787.5 589.8,789.9 591.0,788.2 592.2,788.4 593.5,791.9 594.8,791.0 596.0,790.8 597.2,792.4 598.5,789.8 599.8,786.5 601.0,786.3 602.2,784.4 603.5,788.5 604.8,787.6 606.0,789.5 607.2,790.6 608.5,787.0 609.8,788.6 611.0,791.5 612.2,789.3 613.5,790.8 614.8,788.5 616.0,786.3 617.2,787.5 618.5,783.9 619.8,789.2 621.0,787.4 622.2,791.4 623.5,786.2 624.8,788.3 626.0,789.3 627.2,788.2 628.5,789.3 629.8,786.9 631.0,785.7 632.2,784.7 633.5,786.4 634.8,786.2 636.0,788.6 637.2,787.7 638.5,786.8 639.8,786.5 641.0,783.7 642.2,786.7 643.5,789.1 644.8,785.5 646.0,787.3 647.2,789.8 648.5,787.2 649.8,788.7 651.0,787.5 652.2,794.0 653.5,792.9 654.8,792.1 656.0,787.6 657.2,789.8 658.5,788.4 659.8,789.3 661.0,787.3 662.2,788.6 663.5,786.7 664.8,788.8 666.0,792.7 667.2,786.1 668.5,785.0 669.8,789.0 671.0,790.4 672.2,788.0 673.5,789.8 674.8,789.8 676.0,790.0 677.2,792.0 678.5,787.7 679.8,789.9 681.0,789.2 682.2,787.0 683.5,789.4 684.8,785.6 686.0,784.5 687.2,790.2 688.5,786.2 689.8,792.0 691.0,791.6 692.2,787.9 693.5,786.3 694.8,782.8 696.0,787.2 697.2,784.4 698.5,791.4 699.8,785.1 701.0,788.0 702.2,782.0 703.5,786.4 704.8,791.2 706.0,788.0 707.2,786.5 708.5,787.0 709.8,789.1 711.0,790.7 712.2,788.4 713.5,783.7 714.8,788.2 716.0,790.7 717.2,794.3 718.5,790.1 719.8,789.2 721.0,787.4 722.2,790.0 723.5,793.0 724.8,787.0 726.0,788.4 727.2,786.0 728.5,786.4 729.8,787.6 731.0,789.5 732.2,786.7 733.5,787.4 734.8,791.5 736.0,790.3 737.2,790.5 738.5,789.8 739.8,788.3 741.0,789.4 742.2,789.9 743.5,788.8 744.8,791.0 746.0,789.0 747.2,790.7 748.5,789.0 749.8,790.3 751.0,787.3 752.2,786.9 753.5,785.4 754.8,790.7 756.0,790.1 757.2,789.3 758.5,790.1 759.8,786.9 761.0,788.4 762.2,787.3 763.5,783.8 764.8,786.9 766.0,786.1 767.2,791.4 768.5,787.3 769.8,786.8 771.0,790.5 772.2,788.9 773.5,785.4 774.8,788.4 776.0,786.7 777.2,792.1 778.5,786.7 779.8,786.4 781.0,781.6 782.2,785.5 783.5,792.3 784.8,789.0 786.0,786.3 787.2,788.7 788.5,787.8 789.8,788.3 791.0,794.3 792.2,794.4 793.5,793.4 794.8,793.4 796.0,787.3 797.2,783.6 798.5,789.3 799.8,789.6 801.0,788.8 802.2,788.3 803.5,790.1 804.8,790.1 806.0,789.4 807.2,789.8 808.5,788.3 809.8,787.6 811.0,791.6 812.2,788.5 813.5,793.2 814.8,791.0 816.0,789.1 817.2,791.3 818.5,787.9 819.8,787.9 821.0,787.6 822.2,788.3 823.5,790.1 824.8,793.7 826.0,790.8 827.2,786.4 828.5,786.1 829.8,783.7 831.0,789.3 832.2,790.7 833.5,789.7 834.8,789.6 836.0,790.0 837.2,789.8 838.5,790.3 839.8,789.4 841.0,786.3 842.2,790.3 843.5,792.0 844.8,785.3 846.0,787.3 847.2,785.6 848.5,789.1 849.8,787.9 851.0,791.7 852.2,791.8 853.5,788.0 854.8,787.3 856.0,786.9 857.2,789.5 858.5,786.5 859.8,789.1 861.0,785.3 862.2,790.3 863.5,790.0 864.8,786.1 866.0,786.2 867.2,788.4 868.5,789.1 869.8,781.9 871.0,787.6 872.2,791.9 873.5,788.1 874.8,785.2 876.0,790.7 877.2,789.5 878.5,789.1 879.8,790.1 881.0,785.9 882.2,786.4 883.5,785.4 884.8,785.2 886.0,787.1 887.2,785.7 888.5,791.7 889.8,790.3 891.0,790.8 892.2,785.0 893.5,787.3 894.8,787.9 896.0,788.7 897.2,789.6 898.5,786.8 899.8,786.0 901.0,790.2 902.2,794.1 903.5,794.5 904.8,789.0 906.0,786.7 907.2,788.6 908.5,789.6 909.8,792.9 911.0,788.8 912.2,786.8 913.5,790.6 914.8,787.2 916.0,786.2 917.2,789.3 918.5,788.2 919.8,785.9 921.0,787.4 922.2,787.3 923.5,787.7 924.8,786.6 926.0,789.5 927.2,787.8 928.5,786.9 929.8,790.7 931.0,786.7 932.2,789.9 933.5,790.2 934.8,788.1 936.0,788.9 937.2,785.1 938.5,788.4 939.8,786.0 941.0,786.0 942.2,788.6 943.5,786.8 944.8,788.5 946.0,789.4 947.2,791.1 948.5,789.9 949.8,791.2 951.0,787.3 952.2,787.4 953.5,789.8 954.8,791.5 956.0,790.1 957.2,787.6 958.5,785.8 959.8,785.7 961.0,790.6 962.2,786.6 963.5,787.6 964.8,789.8 966.0,789.8 967.2,787.1 968.5,792.9 969.8,789.7 971.0,789.4 972.2,790.6 973.5,788.2 974.8,790.0 976.0,788.5 977.2,786.4 978.5,785.8 979.8,788.8 981.0,788.8 982.2,788.2 983.5,787.4 984.8,787.7 986.0,790.2 987.2,791.4 988.5,788.5 989.8,789.1 991.0,784.3 992.2,785.0 993.5,786.1 994.8,785.9 996.0,789.6 997.2,783.8 998.5,788.7 999.8,790.1 1001.0,794.0 1002.2,788.4 1003.5,789.5 1004.8,792.1 1006.0,791.4 1007.2,786.9 1008.5,787.3 1009.8,785.6 1011.0,788.1 1012.2,790.0 1013.5,792.0 1014.8,790.5 1016.0,791.0 1017.2,791.4 1018.5,787.2 1019.8,789.8 1021.0,791.0 1022.2,788.6 1023.5,786.3 1024.8,788.4 1026.0,788.8 1027.2,790.2 1028.5,784.7 1029.8,786.9 1031.0,792.9 1032.2,792.4 1033.5,788.9 1034.8,787.9 1036.0,787.8 1037.2,786.1 1038.5,787.0 1039.8,788.1 1041.0,785.6 1042.2,787.7 1043.5,789.0 1044.8,785.6 1046.0,786.9 1047.2,784.6 1048.5,787.8 1049.8,788.9 1051.0,787.4 1052.2,788.4 1053.5,789.8 1054.8,790.3 1056.0,785.8 1057.2,787.2 1058.5,784.9 1059.8,783.4 1061.0,789.8 1062.2,790.5 1063.5,791.8 1064.8,790.9 1066.0,787.8 1067.2,788.8 1068.5,787.3 1069.8,791.4 1071.0,783.6 1072.2,788.5 1073.5,787.2 1074.8,789.9 1076.0,791.6 1077.2,787.6 1078.5,791.5 1079.8,791.6 1081.0,785.5 1082.2,792.1 1083.5,786.5 1084.8,785.0 1086.0,790.0 1087.2,787.1 1088.5,788.7 1089.8,788.4 1091.0,786.1 1092.2,791.7 1093.5,792.6 1094.8,789.5 1096.0,792.4 1097.2,789.3 1098.5,789.2 1099.8,787.9 1101.0,785.3 1102.2,787.1 1103.5,786.0 1104.8,788.9 1106.0,788.9 1107.2,787.3 1108.5,791.2 1109.8,789.9 1111.0,793.0 1112.2,788.5 1113.5,787.6 1114.8,786.6 1116.0,788.7 1117.2,788.2 1118.5,788.5 1119.8,792.6 1121.0,791.2 1122.2,787.6 1123.5,789.3 1124.8,788.0 1126.0,787.7 1127.2,787.8 1128.5,788.5 1129.8,790.0 1131.0,791.1 1132.2,789.1 1133.5,786.8 1134.8,788.1 1136.0,788.0 1137.2,787.8 1138.5,785.6 1139.8,787.6 1141.0,784.1 1142.2,790.5 1143.5,790.6 1144.8,790.7 1146.0,786.8 1147.2,788.7 1148.5,791.5 1149.8,788.6 1151.0,786.1 1152.2,787.8 1153.5,783.1 1154.8,789.6 1156.0,789.7 1157.2,785.6 1158.5,789.5 1159.8,791.3 1161.0,790.6 1162.2,790.5 1163.5,792.5 1164.8,789.8 1166.0,792.0 1167.2,788.7 1168.5,787.0 1169.8,787.5 1171.0,785.9 1172.2,788.9 1173.5,787.0 1174.8,789.0 1176.0,789.3 1177.2,792.4 1178.5,793.4 1179.8,788.2 1181.0,788.0 1182.2,788.0 1183.5,787.0 1184.8,792.4 1186.0,792.1 1187.2,788.7 1188.5,785.4 1189.8,786.4 1191.0,788.1 1192.2,792.1 1193.5,786.3 1194.8,791.4 1196.0,785.8 1197.2,788.8 1198.5,785.9 1199.8,787.0 1201.0,782.7 1202.2,788.7 1203.5,788.6 1204.8,786.1 1206.0,783.1 1207.2,787.3 1208.5,788.2 1209.8,785.1 1211.0,788.9 1212.2,788.3 1213.5,785.8 1214.8,786.1 1216.0,782.3 1217.2,788.9 1218.5,790.8 1219.8,788.5 1221.0,785.6 1222.2,785.3 1223.5,787.1 1224.8,786.2 1226.0,788.7 1227.2,786.5 1228.5,790.2 1229.8,791.5 1231.0,787.7 1232.2,786.4 1233.5,781.2 1234.8,787.1 1236.0,789.1 1237.2,786.4 1238.5,790.6 1239.8,787.3 1241.0,785.5 1242.2,789.8 1243.5,789.8 1244.8,784.0 1246.0,786.0 1247.2,785.0 1248.5,787.3 1249.8,788.6 1251.0,787.4 1252.2,788.6 1253.5,790.6 1254.8,788.1 1256.0,785.5 1257.2,785.6 1258.5,789.8 1259.8,792.7 1261.0,788.9 1262.2,789.4 1263.5,786.8 1264.8,786.8 1266.0,790.3 1267.2,787.7 1268.5,788.7 1269.8,788.8 1271.0,791.2 1272.2,789.5 1273.5,788.5 1274.8,787.8 1276.0,787.1 1277.2,790.5 1278.5,793.8 1279.8,785.9 1281.0,790.3 1282.2,786.5 1283.5,786.6 1284.8,787.4 1286.0,787.2 1287.2,787.3 1288.5,786.8 1289.8,792.3 1291.0,785.9 1292.2,786.4 1293.5,786.3 1294.8,788.5 1296.0,785.5 1297.2,787.8 1298.5,788.6 1299.8,793.0 1301.0,790.8 1302.2,788.8 1303.5,788.8 1304.8,792.8 1306.0,789.1 1307.2,787.0 1308.5,786.7 1309.8,787.3 1311.0,790.3 1312.2,786.5 1313.5,786.7 1314.8,788.1 1316.0,786.2 1317.2,789.5 1318.5,787.8 1319.8,789.5 1321.0,789.8 1322.2,792.2 1323.5,793.2 1324.8,787.4 1326.0,785.2 1327.2,785.1 1328.5,788.9 1329.8,789.8 1331.0,788.7 1332.2,788.4 1333.5,791.9 1334.8,791.2 1336.0,789.5 1337.2,790.1 1338.5,785.3 1339.8,790.5 1341.0,793.6 1342.2,789.8 1343.5,787.8 1344.8,791.2 1346.0,787.9 1347.2,788.6 1348.5,789.9 1349.8,788.4 1351.0,790.1 1352.2,784.4 1353.5,782.1 1354.8,788.9 1356.0,789.8 1357.2,789.3 1358.5,787.7 1359.8,788.4 1361.0,789.5 1362.2,786.1 1363.5,788.6" fill="none" stroke="#0d63b9" stroke-width="2.1" stroke-linejoin="round"/><polyline points="146.6,578.0 147.4,630.0 148.3,690.0 149.4,718.0 150.5,720.5 151.8,721.8 153.0,715.0 154.2,708.5 155.5,704.6 156.8,707.9 158.0,707.5 159.2,709.4 160.5,720.4 161.8,726.6 163.0,733.3 164.2,730.2 165.5,732.8 166.8,729.8 168.0,718.5 169.2,719.0 170.5,710.0 171.8,702.0 173.0,683.3 174.2,672.9 175.5,676.4 176.8,686.0 178.0,700.9 179.2,694.7 180.5,697.0 181.8,704.7 183.0,710.5 184.2,712.9 185.5,708.9 186.8,712.6 188.0,710.7 189.2,711.8 190.5,710.4 191.8,714.1 193.0,712.0 194.2,713.8 195.5,716.9 196.8,710.5 198.0,712.1 199.2,711.6 200.5,721.0 201.8,713.3 203.0,713.7 204.2,712.9 205.5,709.6 206.8,704.9 208.0,714.5 209.2,712.0 210.5,716.8 211.8,709.6 213.0,711.9 214.2,719.8 215.5,722.2 216.8,710.6 218.0,707.7 219.2,710.2 220.5,707.4 221.8,695.9 223.0,686.3 224.2,681.6 225.5,691.3 226.8,704.5 228.0,697.8 229.2,691.5 230.5,693.9 231.8,703.2 233.0,702.1 234.2,710.5 235.5,711.2 236.8,718.6 238.0,724.7 239.2,730.2 240.5,735.5 241.8,725.3 243.0,718.7 244.2,703.3 245.5,687.8 246.8,671.4 248.0,649.7 249.2,641.6 250.5,643.0 251.8,653.5 253.0,655.2 254.2,643.7 255.5,646.0 256.8,665.2 258.0,684.4 259.2,701.0 260.5,712.8 261.8,725.2 263.0,724.1 264.2,721.5 265.5,720.2 266.8,708.7 268.0,719.2 269.2,711.1 270.5,716.1 271.8,710.3 273.0,709.8 274.2,712.2 275.5,722.7 276.8,719.6 278.0,713.3 279.2,713.4 280.5,709.7 281.8,713.8 283.0,712.1 284.2,717.0 285.5,708.3 286.8,708.1 288.0,700.5 289.2,688.2 290.5,670.1 291.8,642.3 293.0,614.7 294.2,595.1 295.5,590.5 296.8,601.3 298.0,627.4 299.2,653.5 300.5,679.6 301.8,702.1 303.0,707.9 304.2,710.8 305.5,714.5 306.8,714.9 308.0,715.1 309.2,711.7 310.5,719.1 311.8,719.7 313.0,715.0 314.2,716.4 315.5,718.1 316.8,720.1 318.0,717.7 319.2,718.6 320.5,714.6 321.8,710.3 323.0,711.9 324.2,718.8 325.5,720.0 326.8,716.6 328.0,712.9 329.2,715.9 330.5,722.4 331.8,722.4 333.0,713.5 334.2,714.5 335.5,708.6 336.8,708.8 338.0,714.6 339.2,715.0 340.5,719.2 341.8,721.4 343.0,719.9 344.2,721.7 345.5,714.0 346.8,709.9 348.0,716.2 349.2,726.9 350.5,718.9 351.8,710.8 353.0,715.2 354.2,721.2 355.5,711.7 356.8,717.8 358.0,712.9 359.2,720.1 360.5,719.4 361.8,717.2 363.0,724.1 364.2,715.0 365.5,711.9 366.8,721.5 368.0,709.1 369.2,708.7 370.5,691.8 371.8,684.2 373.0,693.1 374.2,705.5 375.5,695.0 376.8,686.0 378.0,692.4 379.2,695.7 380.5,701.1 381.8,686.6 383.0,675.5 384.2,671.9 385.5,678.9 386.8,660.1 388.0,649.6 389.2,654.0 390.5,668.9 391.8,664.4 393.0,652.1 394.2,656.3 395.5,670.1 396.8,665.9 398.0,672.9 399.2,686.0 400.5,681.5 401.8,694.6 403.0,692.3 404.2,692.6 405.5,704.4 406.8,715.3 408.0,722.7 409.2,716.0 410.5,713.6 411.8,717.3 413.0,711.7 414.2,707.0 415.5,717.0 416.8,713.8 418.0,719.7 419.2,711.5 420.5,701.7 421.8,713.6 423.0,715.4 424.2,722.0 425.5,718.7 426.8,717.1 428.0,718.0 429.2,714.0 430.5,715.1 431.8,709.1 433.0,716.1 434.2,711.7 435.5,712.4 436.8,717.5 438.0,719.5 439.2,711.5 440.5,723.0 441.8,714.0 443.0,718.4 444.2,719.8 445.5,716.9 446.8,716.1 448.0,723.0 449.2,720.5 450.5,718.0 451.8,707.7 453.0,710.3 454.2,719.1 455.5,716.7 456.8,711.2 458.0,711.4 459.2,713.0 460.5,717.6 461.8,717.2 463.0,719.8 464.2,712.4 465.5,718.8 466.8,713.6 468.0,713.4 469.2,722.2 470.5,716.8 471.8,714.7 473.0,714.0 474.2,713.1 475.5,721.4 476.8,722.3 478.0,719.6 479.2,716.7 480.5,719.9 481.8,715.6 483.0,717.1 484.2,717.2 485.5,715.8 486.8,722.3 488.0,724.1 489.2,722.6 490.5,708.2 491.8,721.6 493.0,719.4 494.2,713.9 495.5,714.7 496.8,719.9 498.0,721.1 499.2,719.9 500.5,716.6 501.8,715.5 503.0,718.7 504.2,715.3 505.5,711.2 506.8,711.5 508.0,713.7 509.2,716.2 510.5,725.1 511.8,711.1 513.0,716.3 514.2,714.9 515.5,716.3 516.8,721.1 518.0,721.6 519.2,715.6 520.5,712.7 521.8,708.6 523.0,713.4 524.2,720.1 525.5,714.9 526.8,718.0 528.0,718.7 529.2,717.5 530.5,720.2 531.8,715.5 533.0,711.5 534.2,709.2 535.5,717.9 536.8,714.0 538.0,713.4 539.2,718.3 540.5,712.2 541.8,722.1 543.0,719.1 544.2,713.1 545.5,710.8 546.8,715.7 548.0,705.9 549.2,703.5 550.5,702.9 551.8,702.5 553.0,703.0 554.2,706.7 555.5,707.7 556.8,710.8 558.0,718.4 559.2,718.1 560.5,713.6 561.8,722.1 563.0,707.8 564.2,713.9 565.5,717.7 566.8,719.8 568.0,716.4 569.2,713.6 570.5,717.3 571.8,714.6 573.0,717.0 574.2,703.0 575.5,714.3 576.8,711.4 578.0,718.4 579.2,718.9 580.5,719.0 581.8,714.0 583.0,716.7 584.2,713.8 585.5,715.7 586.8,714.6 588.0,711.1 589.2,722.8 590.5,719.7 591.8,707.0 593.0,717.3 594.2,709.4 595.5,712.9 596.8,712.0 598.0,712.1 599.2,715.5 600.5,713.7 601.8,708.4 603.0,713.7 604.2,716.3 605.5,723.0 606.8,714.8 608.0,709.8 609.2,712.3 610.5,717.3 611.8,711.6 613.0,711.2 614.2,716.6 615.5,715.2 616.8,715.7 618.0,711.5 619.2,708.5 620.5,707.2 621.8,704.3 623.0,701.3 624.2,703.5 625.5,703.8 626.8,694.3 628.0,684.1 629.2,674.9 630.5,673.4 631.8,682.3 633.0,678.1 634.2,661.2 635.5,644.5 636.8,636.5 638.0,636.8 639.2,646.2 640.5,661.8 641.8,641.6 643.0,624.1 644.2,614.8 645.5,615.2 646.8,629.1 648.0,648.3 649.2,671.9 650.5,659.3 651.8,648.2 653.0,652.1 654.2,667.1 655.5,680.4 656.8,678.8 658.0,679.6 659.2,690.9 660.5,703.4 661.8,713.3 663.0,715.7 664.2,712.3 665.5,711.4 666.8,706.4 668.0,708.6 669.2,718.6 670.5,715.2 671.8,709.2 673.0,719.6 674.2,708.6 675.5,719.2 676.8,714.4 678.0,716.4 679.2,718.2 680.5,716.8 681.8,720.9 683.0,716.2 684.2,713.8 685.5,711.9 686.8,708.1 688.0,710.6 689.2,718.4 690.5,719.3 691.8,721.9 693.0,728.6 694.2,724.8 695.5,733.4 696.8,729.1 698.0,721.2 699.2,725.3 700.5,719.2 701.8,715.2 703.0,716.4 704.2,707.0 705.5,709.8 706.8,708.3 708.0,704.3 709.2,716.2 710.5,719.4 711.8,715.1 713.0,716.5 714.2,710.9 715.5,716.2 716.8,718.6 718.0,722.4 719.2,723.3 720.5,718.8 721.8,715.2 723.0,711.4 724.2,711.6 725.5,717.0 726.8,717.8 728.0,715.5 729.2,722.0 730.5,718.8 731.8,715.2 733.0,713.3 734.2,713.6 735.5,709.0 736.8,707.4 738.0,711.4 739.2,707.9 740.5,707.6 741.8,712.0 743.0,707.6 744.2,711.4 745.5,707.9 746.8,712.6 748.0,710.6 749.2,703.2 750.5,713.0 751.8,710.7 753.0,704.1 754.2,711.5 755.5,713.7 756.8,708.5 758.0,710.6 759.2,716.1 760.5,721.1 761.8,721.1 763.0,721.5 764.2,721.1 765.5,705.4 766.8,709.9 768.0,714.8 769.2,703.3 770.5,716.0 771.8,719.1 773.0,712.4 774.2,712.8 775.5,710.5 776.8,714.0 778.0,714.6 779.2,714.9 780.5,710.5 781.8,715.8 783.0,713.7 784.2,718.9 785.5,717.1 786.8,709.0 788.0,707.5 789.2,713.8 790.5,712.7 791.8,716.6 793.0,718.8 794.2,715.9 795.5,707.8 796.8,708.4 798.0,716.2 799.2,710.7 800.5,719.0 801.8,715.4 803.0,717.3 804.2,711.6 805.5,713.9 806.8,701.9 808.0,711.5 809.2,716.8 810.5,711.5 811.8,710.6 813.0,713.9 814.2,715.1 815.5,711.5 816.8,717.2 818.0,708.3 819.2,718.5 820.5,709.6 821.8,710.3 823.0,719.9 824.2,711.6 825.5,707.1 826.8,713.8 828.0,710.7 829.2,709.3 830.5,710.8 831.8,710.9 833.0,709.9 834.2,709.5 835.5,720.9 836.8,713.3 838.0,718.9 839.2,709.7 840.5,716.3 841.8,709.8 843.0,712.0 844.2,717.2 845.5,713.1 846.8,706.1 848.0,710.8 849.2,713.5 850.5,717.2 851.8,711.1 853.0,712.9 854.2,714.9 855.5,707.8 856.8,713.1 858.0,711.0 859.2,716.1 860.5,714.7 861.8,714.2 863.0,704.3 864.2,712.4 865.5,712.9 866.8,710.5 868.0,711.9 869.2,708.9 870.5,714.5 871.8,717.8 873.0,718.2 874.2,713.4 875.5,722.0 876.8,720.1 878.0,711.9 879.2,713.8 880.5,707.7 881.8,713.0 883.0,717.7 884.2,721.1 885.5,714.4 886.8,707.1 888.0,712.7 889.2,720.5 890.5,716.7 891.8,720.9 893.0,719.8 894.2,722.7 895.5,719.2 896.8,712.9 898.0,716.5 899.2,726.3 900.5,715.0 901.8,706.9 903.0,722.5 904.2,718.3 905.5,712.9 906.8,711.9 908.0,707.7 909.2,716.6 910.5,715.9 911.8,712.4 913.0,712.6 914.2,712.7 915.5,719.2 916.8,715.0 918.0,721.0 919.2,712.6 920.5,711.8 921.8,712.3 923.0,712.1 924.2,714.0 925.5,719.3 926.8,721.1 928.0,711.6 929.2,719.9 930.5,716.4 931.8,722.2 933.0,715.7 934.2,711.5 935.5,717.7 936.8,718.3 938.0,713.7 939.2,714.8 940.5,715.5 941.8,716.5 943.0,707.8 944.2,708.3 945.5,713.9 946.8,715.9 948.0,712.9 949.2,706.9 950.5,719.2 951.8,714.5 953.0,710.3 954.2,721.0 955.5,721.1 956.8,720.7 958.0,719.8 959.2,718.4 960.5,711.4 961.8,714.4 963.0,716.4 964.2,718.0 965.5,717.7 966.8,711.1 968.0,711.6 969.2,712.9 970.5,713.7 971.8,710.9 973.0,706.3 974.2,708.0 975.5,714.9 976.8,714.9 978.0,717.5 979.2,707.3 980.5,711.6 981.8,718.2 983.0,707.1 984.2,708.7 985.5,706.5 986.8,718.6 988.0,715.8 989.2,712.7 990.5,715.2 991.8,714.6 993.0,718.9 994.2,720.9 995.5,720.2 996.8,717.5 998.0,718.8 999.2,719.3 1000.5,720.9 1001.8,708.2 1003.0,715.1 1004.2,715.4 1005.5,715.8 1006.8,714.1 1008.0,714.5 1009.2,717.1 1010.5,716.3 1011.8,715.8 1013.0,710.5 1014.2,708.6 1015.5,710.5 1016.8,706.3 1018.0,711.0 1019.2,710.5 1020.5,706.3 1021.8,704.8 1023.0,710.9 1024.2,711.7 1025.5,723.8 1026.8,720.5 1028.0,712.7 1029.2,712.4 1030.5,710.1 1031.8,710.6 1033.0,712.6 1034.2,714.3 1035.5,712.1 1036.8,718.0 1038.0,718.4 1039.2,724.2 1040.5,711.1 1041.8,717.2 1043.0,713.8 1044.2,707.8 1045.5,712.2 1046.8,707.3 1048.0,713.3 1049.2,726.6 1050.5,723.0 1051.8,724.5 1053.0,722.1 1054.2,709.7 1055.5,715.7 1056.8,715.8 1058.0,717.0 1059.2,710.9 1060.5,705.6 1061.8,722.3 1063.0,721.6 1064.2,717.7 1065.5,713.4 1066.8,715.5 1068.0,709.7 1069.2,718.1 1070.5,716.3 1071.8,714.6 1073.0,713.1 1074.2,714.3 1075.5,715.4 1076.8,713.3 1078.0,718.9 1079.2,716.7 1080.5,714.9 1081.8,711.2 1083.0,719.5 1084.2,721.6 1085.5,719.3 1086.8,707.8 1088.0,712.1 1089.2,718.7 1090.5,715.9 1091.8,720.7 1093.0,714.2 1094.2,718.3 1095.5,717.9 1096.8,704.9 1098.0,711.2 1099.2,713.2 1100.5,711.9 1101.8,710.5 1103.0,721.0 1104.2,715.7 1105.5,718.6 1106.8,709.9 1108.0,704.9 1109.2,710.9 1110.5,716.0 1111.8,712.0 1113.0,716.7 1114.2,718.8 1115.5,713.8 1116.8,714.5 1118.0,711.7 1119.2,719.0 1120.5,723.5 1121.8,718.9 1123.0,713.6 1124.2,711.6 1125.5,713.1 1126.8,718.5 1128.0,712.4 1129.2,720.9 1130.5,710.9 1131.8,714.1 1133.0,720.6 1134.2,723.9 1135.5,715.0 1136.8,718.4 1138.0,726.7 1139.2,722.4 1140.5,706.9 1141.8,714.6 1143.0,725.3 1144.2,712.0 1145.5,718.4 1146.8,706.6 1148.0,720.2 1149.2,712.4 1150.5,718.0 1151.8,719.6 1153.0,703.8 1154.2,706.5 1155.5,714.7 1156.8,708.3 1158.0,713.6 1159.2,710.6 1160.5,720.0 1161.8,713.8 1163.0,710.8 1164.2,717.0 1165.5,720.7 1166.8,715.5 1168.0,716.3 1169.2,717.4 1170.5,713.3 1171.8,709.5 1173.0,716.2 1174.2,713.7 1175.5,708.8 1176.8,717.5 1178.0,717.4 1179.2,716.1 1180.5,711.9 1181.8,713.4 1183.0,717.3 1184.2,717.6 1185.5,711.9 1186.8,710.5 1188.0,715.6 1189.2,715.9 1190.5,718.9 1191.8,710.7 1193.0,718.2 1194.2,723.3 1195.5,720.8 1196.8,716.7 1198.0,719.3 1199.2,710.3 1200.5,712.1 1201.8,723.4 1203.0,709.6 1204.2,708.9 1205.5,717.4 1206.8,712.6 1208.0,712.1 1209.2,709.5 1210.5,721.2 1211.8,713.6 1213.0,713.5 1214.2,706.8 1215.5,716.7 1216.8,715.3 1218.0,717.2 1219.2,722.3 1220.5,717.1 1221.8,710.2 1223.0,709.6 1224.2,714.3 1225.5,720.6 1226.8,710.9 1228.0,713.1 1229.2,714.0 1230.5,717.7 1231.8,711.7 1233.0,715.7 1234.2,718.5 1235.5,715.5 1236.8,714.7 1238.0,717.6 1239.2,718.1 1240.5,721.1 1241.8,711.5 1243.0,719.7 1244.2,714.9 1245.5,710.0 1246.8,711.6 1248.0,709.0 1249.2,712.9 1250.5,719.1 1251.8,706.0 1253.0,708.1 1254.2,717.0 1255.5,714.1 1256.8,718.3 1258.0,709.9 1259.2,713.7 1260.5,703.4 1261.8,709.0 1263.0,717.0 1264.2,720.7 1265.5,723.2 1266.8,716.4 1268.0,711.5 1269.2,712.6 1270.5,706.2 1271.8,719.1 1273.0,721.0 1274.2,712.2 1275.5,722.4 1276.8,710.6 1278.0,716.6 1279.2,711.8 1280.5,706.8 1281.8,715.1 1283.0,710.0 1284.2,719.2 1285.5,711.9 1286.8,714.8 1288.0,712.9 1289.2,715.2 1290.5,712.3 1291.8,718.0 1293.0,718.3 1294.2,716.0 1295.5,714.6 1296.8,723.5 1298.0,713.7 1299.2,712.8 1300.5,717.9 1301.8,715.5 1303.0,708.0 1304.2,713.0 1305.5,712.9 1306.8,710.3 1308.0,714.9 1309.2,710.0 1310.5,712.9 1311.8,709.6 1313.0,720.7 1314.2,714.9 1315.5,716.9 1316.8,716.6 1318.0,718.4 1319.2,715.0 1320.5,718.3 1321.8,716.2 1323.0,704.6 1324.2,714.3 1325.5,709.2 1326.8,718.0 1328.0,716.5 1329.2,713.7 1330.5,703.8 1331.8,703.4 1333.0,707.6 1334.2,711.9 1335.5,708.4 1336.8,722.3 1338.0,718.5 1339.2,715.3 1340.5,710.8 1341.8,712.7 1343.0,713.5 1344.2,712.8 1345.5,714.2 1346.8,718.3 1348.0,708.0 1349.2,714.6 1350.5,719.7 1351.8,710.0 1353.0,713.2 1354.2,713.0 1355.5,709.6 1356.8,718.1 1358.0,714.2 1359.2,719.8 1360.5,717.8 1361.8,714.3 1363.0,716.1" fill="none" stroke="#ff0000" stroke-width="2.1" stroke-linejoin="round"/><polyline points="135.3,1011.0 135.7,930.0 136.2,830.0 136.8,785.0 138.0,774.0 139.3,785.0 140.5,840.0 142.0,905.0 144.0,962.0 146.0,996.0 148.0,1009.5 149.0,1008.9 150.2,1008.7 151.5,1010.8 152.8,1007.7 154.0,1009.6 155.2,1007.6 156.5,1011.0 157.8,1010.7 159.0,1011.9 160.2,1010.0 161.5,1010.7 162.8,1010.0 164.0,1009.3 165.2,1010.1 166.5,1008.4 167.8,1008.7 169.0,1009.2 170.2,1007.6 171.5,1005.7 172.8,1006.5 174.0,1003.7 175.2,1002.0 176.5,1002.4 177.8,1002.6 179.0,1003.8 180.2,1005.3 181.5,1008.0 182.8,1004.9 184.0,1003.5 185.2,1003.1 186.5,1004.3 187.8,1003.2 189.0,1003.7 190.2,1008.0 191.5,1006.2 192.8,1007.8 194.0,1009.8 195.2,1012.4 196.5,1009.5 197.8,1007.3 199.0,1010.4 200.2,1009.7 201.5,1009.7 202.8,1010.7 204.0,1010.6 205.2,1010.7 206.5,1009.9 207.8,1011.7 209.0,1012.3 210.2,1010.7 211.5,1009.9 212.8,1011.1 214.0,1011.0 215.2,1009.2 216.5,1009.6 217.8,1011.4 219.0,1010.4 220.2,1009.9 221.5,1010.5 222.8,1010.3 224.0,1010.3 225.2,1008.1 226.5,1011.9 227.8,1010.8 229.0,1009.4 230.2,1011.2 231.5,1010.8 232.8,1010.4 234.0,1011.5 235.2,1013.2 236.5,1011.5 237.8,1012.4 239.0,1013.2 240.2,1009.7 241.5,1009.6 242.8,1011.0 244.0,1008.5 245.2,1009.6 246.5,1011.7 247.8,1011.8 249.0,1011.3 250.2,1008.3 251.5,1012.6 252.8,1011.4 254.0,1011.4 255.2,1011.1 256.5,1008.5 257.8,1008.3 259.0,1008.5 260.2,1012.1 261.5,1009.7 262.8,1009.9 264.0,1009.9 265.2,1010.9 266.5,1011.0 267.8,1010.7 269.0,1008.9 270.2,1006.4 271.5,1009.7 272.8,1010.5 274.0,1011.8 275.2,1010.5 276.5,1009.6 277.8,1010.6 279.0,1008.6 280.2,1008.8 281.5,1008.8 282.8,1010.3 284.0,1012.7 285.2,1011.7 286.5,1011.9 287.8,1010.9 289.0,1010.7 290.2,1009.9 291.5,1009.9 292.8,1007.4 294.0,1008.3 295.2,1008.4 296.5,1010.9 297.8,1011.2 299.0,1011.8 300.2,1012.4 301.5,1010.4 302.8,1011.5 304.0,1012.8 305.2,1010.8 306.5,1011.7 307.8,1010.4 309.0,1008.5 310.2,1010.1 311.5,1009.3 312.8,1010.2 314.0,1009.8 315.2,1010.6 316.5,1007.9 317.8,1012.2 319.0,1012.3 320.2,1010.3 321.5,1009.2 322.8,1010.1 324.0,1011.0 325.2,1010.9 326.5,1010.9 327.8,1008.1 329.0,1008.6 330.2,1011.5 331.5,1010.8 332.8,1008.7 334.0,1009.0 335.2,1008.4 336.5,1008.7 337.8,1011.3 339.0,1010.3 340.2,1011.6 341.5,1010.8 342.8,1008.6 344.0,1009.2 345.2,1012.8 346.5,1009.9 347.8,1009.0 349.0,1011.5 350.2,1010.6 351.5,1010.4 352.8,1012.0 354.0,1008.6 355.2,1010.4 356.5,1009.1 357.8,1008.4 359.0,1009.0 360.2,1011.4 361.5,1010.4 362.8,1008.2 364.0,1008.6 365.2,1011.7 366.5,1011.8 367.8,1009.3 369.0,1013.0 370.2,1010.4 371.5,1008.9 372.8,1009.9 374.0,1011.3 375.2,1012.4 376.5,1011.9 377.8,1010.1 379.0,1009.6 380.2,1008.4 381.5,1009.6 382.8,1008.9 384.0,1009.3 385.2,1007.0 386.5,1006.5 387.8,1005.2 389.0,1004.1 390.2,1003.9 391.5,1004.4 392.8,1005.1 394.0,1008.0 395.2,1008.8 396.5,1007.9 397.8,1010.2 399.0,1010.5 400.2,1012.0 401.5,1010.4 402.8,1010.1 404.0,1009.4 405.2,1010.3 406.5,1010.9 407.8,1010.6 409.0,1010.1 410.2,1010.9 411.5,1010.5 412.8,1010.6 414.0,1009.3 415.2,1010.3 416.5,1009.1 417.8,1009.1 419.0,1010.2 420.2,1012.8 421.5,1012.0 422.8,1010.6 424.0,1010.2 425.2,1011.4 426.5,1012.2 427.8,1012.1 429.0,1010.4 430.2,1010.6 431.5,1010.0 432.8,1009.9 434.0,1009.2 435.2,1009.8 436.5,1007.7 437.8,1008.4 439.0,1010.4 440.2,1009.2 441.5,1010.7 442.8,1008.9 444.0,1009.6 445.2,1010.6 446.5,1009.1 447.8,1009.2 449.0,1013.0 450.2,1010.0 451.5,1009.4 452.8,1009.4 454.0,1010.2 455.2,1010.2 456.5,1011.4 457.8,1011.5 459.0,1010.1 460.2,1009.8 461.5,1008.5 462.8,1008.2 464.0,1009.0 465.2,1010.9 466.5,1010.6 467.8,1011.3 469.0,1011.6 470.2,1010.4 471.5,1012.8 472.8,1010.2 474.0,1009.5 475.2,1009.6 476.5,1011.5 477.8,1010.4 479.0,1009.4 480.2,1010.6 481.5,1011.7 482.8,1010.4 484.0,1010.0 485.2,1011.5 486.5,1011.7 487.8,1011.7 489.0,1009.7 490.2,1010.5 491.5,1010.8 492.8,1008.3 494.0,1011.3 495.2,1010.6 496.5,1010.0 497.8,1012.9 499.0,1011.0 500.2,1009.6 501.5,1010.1 502.8,1010.9 504.0,1011.4 505.2,1010.4 506.5,1009.3 507.8,1009.3 509.0,1009.1 510.2,1008.8 511.5,1010.0 512.8,1009.7 514.0,1010.2 515.2,1009.3 516.5,1009.1 517.8,1009.8 519.0,1009.8 520.2,1011.6 521.5,1009.5 522.8,1010.4 524.0,1010.3 525.2,1008.8 526.5,1010.8 527.8,1010.6 529.0,1007.9 530.2,1010.5 531.5,1011.4 532.8,1009.6 534.0,1012.2 535.2,1010.9 536.5,1009.1 537.8,1010.7 539.0,1010.0 540.2,1008.7 541.5,1007.4 542.8,1010.0 544.0,1009.4 545.2,1010.9 546.5,1010.9 547.8,1009.8 549.0,1009.6 550.2,1012.2 551.5,1012.7 552.8,1011.7 554.0,1010.2 555.2,1009.1 556.5,1009.6 557.8,1012.1 559.0,1011.2 560.2,1010.1 561.5,1008.8 562.8,1010.2 564.0,1009.2 565.2,1010.1 566.5,1011.1 567.8,1011.7 569.0,1010.7 570.2,1010.0 571.5,1010.5 572.8,1012.5 574.0,1011.2 575.2,1008.8 576.5,1011.8 577.8,1010.9 579.0,1014.5 580.2,1010.6 581.5,1010.2 582.8,1009.9 584.0,1010.7 585.2,1009.7 586.5,1008.4 587.8,1007.7 589.0,1009.6 590.2,1009.6 591.5,1009.5 592.8,1012.6 594.0,1011.7 595.2,1011.9 596.5,1010.0 597.8,1010.6 599.0,1010.1 600.2,1010.0 601.5,1011.1 602.8,1011.2 604.0,1010.8 605.2,1010.6 606.5,1008.7 607.8,1009.1 609.0,1010.5 610.2,1009.9 611.5,1009.3 612.8,1010.5 614.0,1009.3 615.2,1009.3 616.5,1011.1 617.8,1010.0 619.0,1011.9 620.2,1011.2 621.5,1011.4 622.8,1011.9 624.0,1008.1 625.2,1009.8 626.5,1008.7 627.8,1009.4 629.0,1009.8 630.2,1011.0 631.5,1008.8 632.8,1008.1 634.0,1002.7 635.2,998.4 636.5,994.5 637.8,993.0 639.0,993.4 640.2,996.3 641.5,994.6 642.8,987.3 644.0,982.8 645.2,979.5 646.5,979.9 647.8,984.0 649.0,986.4 650.2,981.0 651.5,977.5 652.8,975.0 654.0,975.7 655.2,980.1 656.5,985.5 657.8,990.7 659.0,994.2 660.2,990.5 661.5,989.4 662.8,988.6 664.0,990.9 665.2,994.8 666.5,999.8 667.8,1002.5 669.0,1005.8 670.2,1007.2 671.5,1008.2 672.8,1008.8 674.0,1010.0 675.2,1011.2 676.5,1009.7 677.8,1009.5 679.0,1009.7 680.2,1010.6 681.5,1011.2 682.8,1009.0 684.0,1010.5 685.2,1009.2 686.5,1010.9 687.8,1009.3 689.0,1008.8 690.2,1009.2 691.5,1010.0 692.8,1009.1 694.0,1010.3 695.2,1010.5 696.5,1010.4 697.8,1010.6 699.0,1011.4 700.2,1009.7 701.5,1010.2 702.8,1010.2 704.0,1007.9 705.2,1010.3 706.5,1009.4 707.8,1009.3 709.0,1009.6 710.2,1010.3 711.5,1010.7 712.8,1010.9 714.0,1009.6 715.2,1010.9 716.5,1010.6 717.8,1009.3 719.0,1008.8 720.2,1008.4 721.5,1006.1 722.8,1003.4 724.0,999.6 725.2,997.0 726.5,995.2 727.8,993.0 729.0,991.9 730.2,996.0 731.5,990.7 732.8,984.8 734.0,979.9 735.2,978.7 736.5,979.0 737.8,981.3 739.0,984.3 740.2,978.7 741.5,973.2 742.8,970.3 744.0,970.9 745.2,974.3 746.5,979.8 747.8,986.6 749.0,982.6 750.2,981.4 751.5,980.4 752.8,983.4 754.0,987.2 755.2,993.3 756.5,995.4 757.8,994.6 759.0,998.3 760.2,1002.5 761.5,1004.5 762.8,1005.5 764.0,1008.1 765.2,1008.7 766.5,1010.1 767.8,1010.2 769.0,1012.1 770.2,1011.4 771.5,1010.2 772.8,1010.5 774.0,1007.0 775.2,1008.6 776.5,1008.9 777.8,1009.9 779.0,1010.6 780.2,1010.6 781.5,1011.4 782.8,1009.7 784.0,1010.5 785.2,1010.2 786.5,1010.3 787.8,1010.7 789.0,1010.0 790.2,1010.5 791.5,1010.3 792.8,1011.5 794.0,1010.4 795.2,1010.7 796.5,1013.4 797.8,1011.6 799.0,1011.2 800.2,1011.7 801.5,1009.4 802.8,1010.9 804.0,1011.3 805.2,1011.0 806.5,1011.6 807.8,1011.5 809.0,1011.9 810.2,1009.9 811.5,1010.7 812.8,1009.8 814.0,1011.6 815.2,1010.7 816.5,1008.9 817.8,1010.1 819.0,1009.1 820.2,1011.2 821.5,1010.1 822.8,1007.7 824.0,1009.3 825.2,1011.3 826.5,1010.9 827.8,1009.7 829.0,1010.9 830.2,1011.1 831.5,1012.1 832.8,1011.7 834.0,1011.0 835.2,1009.5 836.5,1010.5 837.8,1010.7 839.0,1010.4 840.2,1010.8 841.5,1009.0 842.8,1010.7 844.0,1010.4 845.2,1010.7 846.5,1010.3 847.8,1010.0 849.0,1010.5 850.2,1011.2 851.5,1010.1 852.8,1010.6 854.0,1009.5 855.2,1010.6 856.5,1010.4 857.8,1008.8 859.0,1011.3 860.2,1009.5 861.5,1010.2 862.8,1008.8 864.0,1008.0 865.2,1010.6 866.5,1008.8 867.8,1007.6 869.0,1009.5 870.2,1008.4 871.5,1009.7 872.8,1012.3 874.0,1010.2 875.2,1010.7 876.5,1011.0 877.8,1010.7 879.0,1010.2 880.2,1012.0 881.5,1010.6 882.8,1010.8 884.0,1010.5 885.2,1008.9 886.5,1010.4 887.8,1010.4 889.0,1011.1 890.2,1011.2 891.5,1012.3 892.8,1008.5 894.0,1009.3 895.2,1009.6 896.5,1009.2 897.8,1010.5 899.0,1010.3 900.2,1010.5 901.5,1008.5 902.8,1008.8 904.0,1009.9 905.2,1009.7 906.5,1009.5 907.8,1010.0 909.0,1009.9 910.2,1009.0 911.5,1011.9 912.8,1009.9 914.0,1011.0 915.2,1011.1 916.5,1011.6 917.8,1009.9 919.0,1009.1 920.2,1010.6 921.5,1010.6 922.8,1007.7 924.0,1006.8 925.2,1009.0 926.5,1009.6 927.8,1009.9 929.0,1010.7 930.2,1009.3 931.5,1013.1 932.8,1011.9 934.0,1012.1 935.2,1011.0 936.5,1008.1 937.8,1010.1 939.0,1009.6 940.2,1010.7 941.5,1010.2 942.8,1011.0 944.0,1009.4 945.2,1009.7 946.5,1010.2 947.8,1009.4 949.0,1009.6 950.2,1010.9 951.5,1012.6 952.8,1010.5 954.0,1011.3 955.2,1009.2 956.5,1009.6 957.8,1010.5 959.0,1011.0 960.2,1009.3 961.5,1010.8 962.8,1010.6 964.0,1011.8 965.2,1011.7 966.5,1011.2 967.8,1010.0 969.0,1010.5 970.2,1009.4 971.5,1009.2 972.8,1008.0 974.0,1008.4 975.2,1008.5 976.5,1009.8 977.8,1010.3 979.0,1008.8 980.2,1009.9 981.5,1010.7 982.8,1011.4 984.0,1010.4 985.2,1010.6 986.5,1009.9 987.8,1011.3 989.0,1008.7 990.2,1010.3 991.5,1007.7 992.8,1011.7 994.0,1011.6 995.2,1008.2 996.5,1009.3 997.8,1008.5 999.0,1007.9 1000.2,1009.4 1001.5,1009.1 1002.8,1011.2 1004.0,1009.9 1005.2,1009.0 1006.5,1009.9 1007.8,1010.7 1009.0,1011.3 1010.2,1011.1 1011.5,1008.8 1012.8,1009.0 1014.0,1009.8 1015.2,1009.2 1016.5,1010.9 1017.8,1010.0 1019.0,1010.2 1020.2,1009.8 1021.5,1010.2 1022.8,1008.6 1024.0,1012.3 1025.2,1010.0 1026.5,1009.4 1027.8,1008.1 1029.0,1009.7 1030.2,1008.6 1031.5,1010.3 1032.8,1011.6 1034.0,1011.2 1035.2,1010.0 1036.5,1011.7 1037.8,1010.3 1039.0,1010.2 1040.2,1010.3 1041.5,1009.8 1042.8,1010.6 1044.0,1009.0 1045.2,1008.0 1046.5,1011.2 1047.8,1009.6 1049.0,1009.7 1050.2,1010.6 1051.5,1009.8 1052.8,1008.8 1054.0,1009.8 1055.2,1009.1 1056.5,1010.7 1057.8,1009.9 1059.0,1009.9 1060.2,1011.1 1061.5,1008.7 1062.8,1008.3 1064.0,1010.7 1065.2,1011.8 1066.5,1010.7 1067.8,1009.6 1069.0,1011.5 1070.2,1011.1 1071.5,1011.6 1072.8,1008.5 1074.0,1009.8 1075.2,1009.0 1076.5,1008.8 1077.8,1010.6 1079.0,1011.2 1080.2,1009.9 1081.5,1009.9 1082.8,1011.8 1084.0,1011.3 1085.2,1010.3 1086.5,1010.9 1087.8,1010.5 1089.0,1008.9 1090.2,1009.4 1091.5,1010.4 1092.8,1011.0 1094.0,1009.1 1095.2,1009.1 1096.5,1009.4 1097.8,1008.4 1099.0,1011.1 1100.2,1011.0 1101.5,1011.9 1102.8,1008.1 1104.0,1008.9 1105.2,1012.1 1106.5,1009.0 1107.8,1008.0 1109.0,1010.1 1110.2,1012.0 1111.5,1011.4 1112.8,1009.4 1114.0,1010.7 1115.2,1010.8 1116.5,1010.7 1117.8,1010.8 1119.0,1011.3 1120.2,1011.8 1121.5,1012.1 1122.8,1011.9 1124.0,1010.4 1125.2,1008.2 1126.5,1010.5 1127.8,1008.6 1129.0,1012.5 1130.2,1009.4 1131.5,1008.0 1132.8,1007.7 1134.0,1010.2 1135.2,1010.6 1136.5,1011.1 1137.8,1010.8 1139.0,1009.5 1140.2,1011.0 1141.5,1009.6 1142.8,1008.4 1144.0,1010.9 1145.2,1011.0 1146.5,1009.4 1147.8,1009.8 1149.0,1011.4 1150.2,1011.6 1151.5,1009.3 1152.8,1011.3 1154.0,1007.6 1155.2,1009.8 1156.5,1010.6 1157.8,1010.2 1159.0,1010.4 1160.2,1008.5 1161.5,1009.8 1162.8,1010.7 1164.0,1009.3 1165.2,1010.2 1166.5,1010.1 1167.8,1007.7 1169.0,1009.1 1170.2,1010.7 1171.5,1008.6 1172.8,1010.0 1174.0,1010.6 1175.2,1008.9 1176.5,1009.7 1177.8,1011.2 1179.0,1011.3 1180.2,1009.4 1181.5,1011.3 1182.8,1010.9 1184.0,1010.5 1185.2,1012.1 1186.5,1011.5 1187.8,1010.9 1189.0,1011.5 1190.2,1011.3 1191.5,1011.9 1192.8,1010.5 1194.0,1008.3 1195.2,1011.7 1196.5,1011.5 1197.8,1011.1 1199.0,1010.5 1200.2,1010.2 1201.5,1010.4 1202.8,1009.2 1204.0,1011.0 1205.2,1010.5 1206.5,1009.3 1207.8,1010.4 1209.0,1009.9 1210.2,1010.2 1211.5,1010.9 1212.8,1013.5 1214.0,1009.7 1215.2,1010.6 1216.5,1011.2 1217.8,1011.0 1219.0,1012.1 1220.2,1010.2 1221.5,1009.9 1222.8,1010.2 1224.0,1008.7 1225.2,1011.2 1226.5,1009.1 1227.8,1010.7 1229.0,1011.7 1230.2,1009.6 1231.5,1010.0 1232.8,1010.0 1234.0,1012.2 1235.2,1011.0 1236.5,1008.4 1237.8,1011.1 1239.0,1011.6 1240.2,1008.3 1241.5,1006.8 1242.8,1012.6 1244.0,1010.8 1245.2,1008.0 1246.5,1011.0 1247.8,1012.1 1249.0,1007.9 1250.2,1011.3 1251.5,1011.3 1252.8,1010.5 1254.0,1009.5 1255.2,1010.6 1256.5,1009.4 1257.8,1010.3 1259.0,1010.0 1260.2,1009.7 1261.5,1010.8 1262.8,1011.5 1264.0,1011.6 1265.2,1011.1 1266.5,1012.4 1267.8,1009.3 1269.0,1010.2 1270.2,1010.5 1271.5,1011.7 1272.8,1008.0 1274.0,1009.3 1275.2,1009.7 1276.5,1010.4 1277.8,1012.9 1279.0,1011.1 1280.2,1010.3 1281.5,1010.8 1282.8,1011.5 1284.0,1010.3 1285.2,1012.2 1286.5,1009.3 1287.8,1011.5 1289.0,1011.3 1290.2,1011.6 1291.5,1012.3 1292.8,1010.4 1294.0,1010.8 1295.2,1010.7 1296.5,1009.7 1297.8,1009.3 1299.0,1009.2 1300.2,1011.0 1301.5,1007.8 1302.8,1008.3 1304.0,1010.0 1305.2,1011.7 1306.5,1010.5 1307.8,1011.8 1309.0,1010.5 1310.2,1009.7 1311.5,1008.4 1312.8,1010.1 1314.0,1012.2 1315.2,1010.8 1316.5,1009.2 1317.8,1010.7 1319.0,1008.8 1320.2,1008.7 1321.5,1011.3 1322.8,1011.0 1324.0,1011.5 1325.2,1010.8 1326.5,1010.3 1327.8,1010.5 1329.0,1010.0 1330.2,1011.4 1331.5,1009.1 1332.8,1007.9 1334.0,1008.8 1335.2,1011.0 1336.5,1009.8 1337.8,1007.6 1339.0,1013.0 1340.2,1009.8 1341.5,1010.0 1342.8,1010.9 1344.0,1010.8 1345.2,1010.2 1346.5,1008.5 1347.8,1010.5 1349.0,1009.2 1350.2,1009.9 1351.5,1011.1 1352.8,1010.0 1354.0,1008.2 1355.2,1009.2 1356.5,1010.8 1357.8,1011.2 1359.0,1009.0 1360.2,1010.1 1361.5,1010.6 1362.8,1011.6 1364.0,1011.0" fill="none" stroke="#e030b8" stroke-width="2.0" stroke-linejoin="round"/></g><line x1="135.0" y1="580.0" x2="135.0" y2="1013.7" stroke="#a5a5a5" stroke-width="2.6"/><line x1="133.7" y1="1012.5" x2="1364.0" y2="1012.5" stroke="#a5a5a5" stroke-width="2.6"/><line x1="135.0" y1="580.0" x2="135.0" y2="702" stroke="#4a8cab" stroke-width="2.4"/></svg>
<div class="t" style="right:1300px;top:996.0px;text-align:right">0</div><div class="t" style="right:1300px;top:934.2px;text-align:right">50</div><div class="t" style="right:1300px;top:872.4px;text-align:right">100</div><div class="t" style="right:1300px;top:810.6px;text-align:right">150</div><div class="t" style="right:1300px;top:748.8px;text-align:right">200</div><div class="t" style="right:1300px;top:687.1px;text-align:right">250</div><div class="t" style="right:1300px;top:625.3px;text-align:right">300</div><div class="t" style="right:1300px;top:563.5px;text-align:right">350</div><div class="t" style="left:75.7px;width:120px;text-align:center;top:1024.0px">0</div><div class="t" style="left:270.5px;width:120px;text-align:center;top:1024.0px">500</div><div class="t" style="left:464.6px;width:120px;text-align:center;top:1024.0px">1000</div><div class="t" style="left:657.5px;width:120px;text-align:center;top:1024.0px">1500</div><div class="t" style="left:847.7px;width:120px;text-align:center;top:1024.0px">2000</div><div class="t" style="left:1040.0px;width:120px;text-align:center;top:1024.0px">2500</div><div class="t" style="left:1231.8px;width:120px;text-align:center;top:1024.0px">3000</div><div class="t" style="left:1222px;top:672.2px;font-size:29.4px">hematite</div><div class="t" style="left:1222px;top:755.2px;font-size:29.4px">magnetite</div><div class="t" style="left:1222px;top:824.2px;font-size:29.4px">pyrrhotite</div><div class="t" style="left:1222px;top:902.0px;font-size:29.4px">violerite</div><div class="t" style="left:1222px;top:974.2px;font-size:29.4px">graphite</div>
<div class="t" style="left:22px;top:548.3px;font-weight:bold;font-size:33px">c</div>
<div class="t" style="left:-61.8px;top:791.5px;width:200px;height:29px;text-align:center;transform:rotate(-90deg);transform-origin:50% 50%">Intensity</div>
<div class="t" style="left:620px;top:1066.7px;white-space:nowrap;font-size:29.4px">Raman shift (cm<span style="position:relative;top:-5.5px;margin-left:3px">-1</span>)</div>

</body></html>
